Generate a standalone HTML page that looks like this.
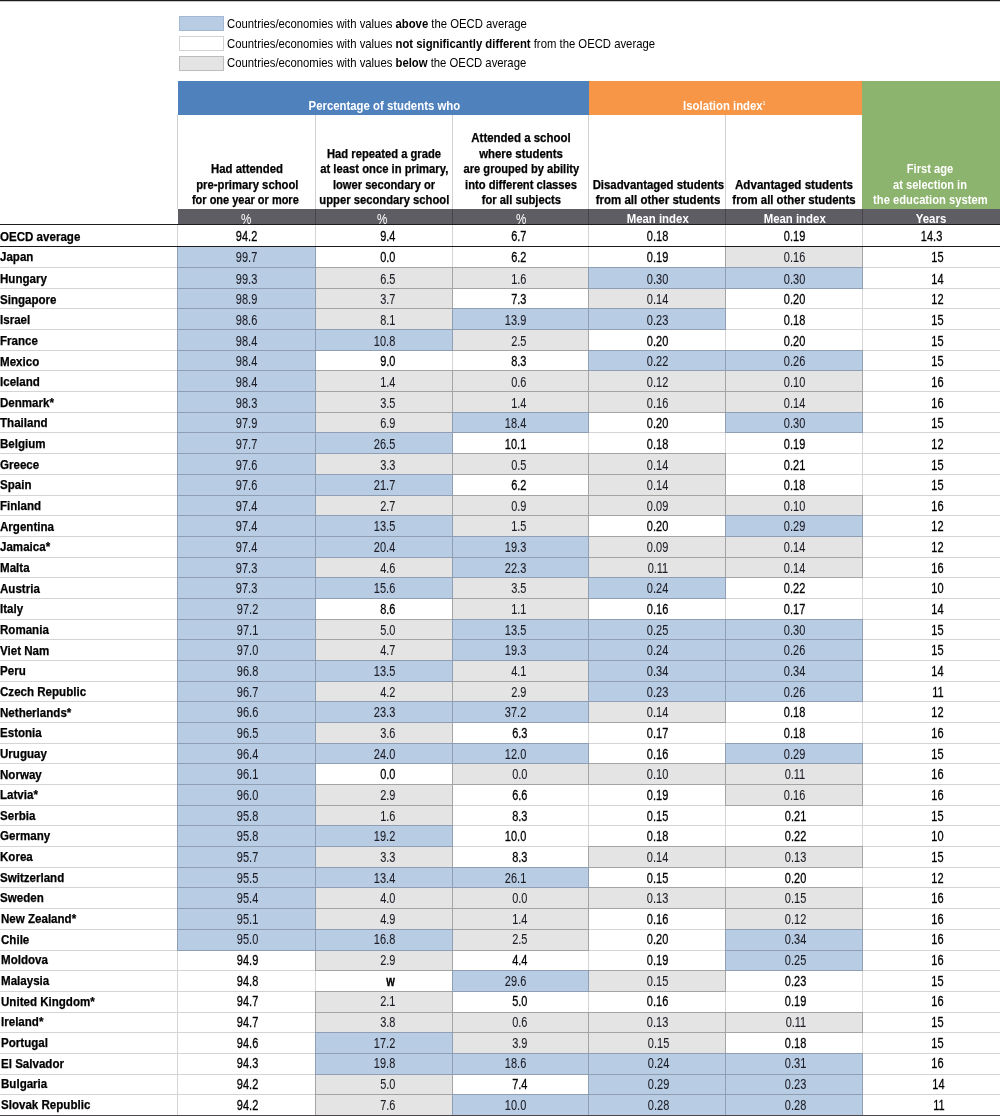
<!DOCTYPE html>
<html><head><meta charset="utf-8"><title>Table</title>
<style>
html,body{margin:0;padding:0;background:#fff;}
body{width:1000px;height:1116px;position:relative;overflow:hidden;font-family:"Liberation Sans",Arial,sans-serif;}
body>div{position:absolute;box-sizing:border-box;}
.t{white-space:nowrap;will-change:transform;}
.t span{display:inline-block;}
.t.w span{-webkit-text-stroke:0.28px #000000;}
.t.hb span{-webkit-text-stroke:0.25px #000;}
.t.c span{-webkit-text-stroke:0.08px #1c1c24;}
</style></head><body>
<div style="left:0px;top:0px;width:1000px;height:1px;background:#1e1b1f;"></div>
<div style="left:0px;top:1px;width:1000px;height:1px;background:#c8c8c8;"></div>
<div style="left:179px;top:16px;width:45px;height:15px;background:#b8cce4;border:1px solid #a3b8d4;"></div>
<div style="left:179px;top:36px;width:45px;height:15px;background:#ffffff;border:1px solid #d2d2d2;"></div>
<div style="left:179px;top:56px;width:45px;height:15px;background:#e4e4e4;border:1px solid #bdbdbd;"></div>
<div class="t" style="left:227.00px;top:16.80px;width:400px;text-align:left;font-size:13px;line-height:13px;font-weight:normal;color:#000"><span style="transform:scaleX(0.87);transform-origin:left;">Countries/economies with values <b>above</b> the OECD average</span></div>
<div class="t" style="left:227.00px;top:37.20px;width:400px;text-align:left;font-size:13px;line-height:13px;font-weight:normal;color:#000"><span style="transform:scaleX(0.87);transform-origin:left;">Countries/economies with values <b>not significantly different</b> from the OECD average</span></div>
<div class="t" style="left:227.00px;top:56.20px;width:400px;text-align:left;font-size:13px;line-height:13px;font-weight:normal;color:#000"><span style="transform:scaleX(0.87);transform-origin:left;">Countries/economies with values <b>below</b> the OECD average</span></div>
<div style="left:178px;top:81px;width:411px;height:34px;background:#4f81bd;"></div>
<div style="left:589px;top:81px;width:273px;height:34px;background:#f79646;"></div>
<div style="left:862px;top:81px;width:138px;height:128px;background:#8db46e;"></div>
<div class="t" style="left:183.50px;top:100.42px;width:400px;text-align:center;font-size:12.5px;line-height:12.5px;font-weight:bold;color:#fff"><span style="transform:scaleX(0.909);transform-origin:center;">Percentage of students who</span></div>
<div class="t" style="left:524.30px;top:100.42px;width:400px;text-align:center;font-size:12.5px;line-height:12.5px;font-weight:bold;color:#fff"><span style="transform:scaleX(0.909);transform-origin:center;">Isolation index<span style="font-size:5px;position:relative;top:-5px">1</span></span></div>
<div style="left:177px;top:115px;width:1px;height:94px;background:#d0d0d0;"></div>
<div style="left:315px;top:115px;width:1px;height:94px;background:#d0d0d0;"></div>
<div style="left:452px;top:115px;width:1px;height:94px;background:#d0d0d0;"></div>
<div style="left:588px;top:115px;width:1px;height:94px;background:#d0d0d0;"></div>
<div style="left:725px;top:115px;width:1px;height:94px;background:#d0d0d0;"></div>
<div style="left:178px;top:209px;width:822px;height:15px;background:#5f5d64;"></div>
<div style="left:315px;top:209px;width:1px;height:15px;background:#48464c;"></div>
<div style="left:452px;top:209px;width:1px;height:15px;background:#48464c;"></div>
<div style="left:588px;top:209px;width:1px;height:15px;background:#48464c;"></div>
<div style="left:725px;top:209px;width:1px;height:15px;background:#48464c;"></div>
<div style="left:862px;top:209px;width:1px;height:15px;background:#48464c;"></div>
<div class="t" style="left:45.80px;top:211.75px;width:400px;text-align:center;font-size:14px;line-height:14px;font-weight:normal;color:#fff"><span style="transform:scaleX(0.83);transform-origin:center;">%</span></div>
<div class="t" style="left:182.20px;top:211.75px;width:400px;text-align:center;font-size:14px;line-height:14px;font-weight:normal;color:#fff"><span style="transform:scaleX(0.83);transform-origin:center;">%</span></div>
<div class="t" style="left:320.60px;top:211.75px;width:400px;text-align:center;font-size:14px;line-height:14px;font-weight:normal;color:#fff"><span style="transform:scaleX(0.83);transform-origin:center;">%</span></div>
<div class="t" style="left:458.40px;top:212.84px;width:400px;text-align:center;font-size:12px;line-height:12px;font-weight:bold;color:#fff"><span style="transform:scaleX(0.95);transform-origin:center;">Mean index</span></div>
<div class="t" style="left:595.20px;top:212.84px;width:400px;text-align:center;font-size:12px;line-height:12px;font-weight:bold;color:#fff"><span style="transform:scaleX(0.95);transform-origin:center;">Mean index</span></div>
<div class="t" style="left:730.50px;top:212.84px;width:400px;text-align:center;font-size:12px;line-height:12px;font-weight:bold;color:#fff"><span style="transform:scaleX(0.95);transform-origin:center;">Years</span></div>
<div class="t hb" style="left:46.50px;top:163.14px;width:400px;text-align:center;font-size:12px;line-height:12px;font-weight:bold;color:#000000"><span style="transform:scaleX(0.9465039999999999);transform-origin:center;">Had attended</span></div>
<div class="t hb" style="left:46.50px;top:178.64px;width:400px;text-align:center;font-size:12px;line-height:12px;font-weight:bold;color:#000000"><span style="transform:scaleX(0.9407559999999999);transform-origin:center;">pre-primary school</span></div>
<div class="t hb" style="left:44.70px;top:194.14px;width:400px;text-align:center;font-size:12px;line-height:12px;font-weight:bold;color:#000000"><span style="transform:scaleX(0.91489);transform-origin:center;">for one year or more</span></div>
<div class="t hb" style="left:184.00px;top:147.64px;width:400px;text-align:center;font-size:12px;line-height:12px;font-weight:bold;color:#000000"><span style="transform:scaleX(0.9340499999999999);transform-origin:center;">Had repeated a grade</span></div>
<div class="t hb" style="left:184.00px;top:163.14px;width:400px;text-align:center;font-size:12px;line-height:12px;font-weight:bold;color:#000000"><span style="transform:scaleX(0.937882);transform-origin:center;">at least once in primary,</span></div>
<div class="t hb" style="left:184.00px;top:178.64px;width:400px;text-align:center;font-size:12px;line-height:12px;font-weight:bold;color:#000000"><span style="transform:scaleX(0.928302);transform-origin:center;">lower secondary or</span></div>
<div class="t hb" style="left:184.00px;top:194.14px;width:400px;text-align:center;font-size:12px;line-height:12px;font-weight:bold;color:#000000"><span style="transform:scaleX(0.936924);transform-origin:center;">upper secondary school</span></div>
<div class="t hb" style="left:320.50px;top:132.14px;width:400px;text-align:center;font-size:12px;line-height:12px;font-weight:bold;color:#000000"><span style="transform:scaleX(0.9551259999999999);transform-origin:center;">Attended a school</span></div>
<div class="t hb" style="left:320.50px;top:147.64px;width:400px;text-align:center;font-size:12px;line-height:12px;font-weight:bold;color:#000000"><span style="transform:scaleX(0.950336);transform-origin:center;">where students</span></div>
<div class="t hb" style="left:320.50px;top:163.14px;width:400px;text-align:center;font-size:12px;line-height:12px;font-weight:bold;color:#000000"><span style="transform:scaleX(0.9263859999999999);transform-origin:center;">are grouped by ability</span></div>
<div class="t hb" style="left:320.50px;top:178.64px;width:400px;text-align:center;font-size:12px;line-height:12px;font-weight:bold;color:#000000"><span style="transform:scaleX(0.9330919999999999);transform-origin:center;">into different classes</span></div>
<div class="t hb" style="left:320.50px;top:194.14px;width:400px;text-align:center;font-size:12px;line-height:12px;font-weight:bold;color:#000000"><span style="transform:scaleX(0.9340499999999999);transform-origin:center;">for all subjects</span></div>
<div class="t hb" style="left:457.50px;top:178.64px;width:400px;text-align:center;font-size:12px;line-height:12px;font-weight:bold;color:#000000"><span style="transform:scaleX(0.9474619999999999);transform-origin:center;">Disadvantaged students</span></div>
<div class="t hb" style="left:457.50px;top:194.14px;width:400px;text-align:center;font-size:12px;line-height:12px;font-weight:bold;color:#000000"><span style="transform:scaleX(0.958);transform-origin:center;">from all other students</span></div>
<div class="t hb" style="left:594.30px;top:178.64px;width:400px;text-align:center;font-size:12px;line-height:12px;font-weight:bold;color:#000000"><span style="transform:scaleX(0.96758);transform-origin:center;">Advantaged students</span></div>
<div class="t hb" style="left:594.30px;top:194.14px;width:400px;text-align:center;font-size:12px;line-height:12px;font-weight:bold;color:#000000"><span style="transform:scaleX(0.9484199999999999);transform-origin:center;">from all other students</span></div>
<div class="t" style="left:730.00px;top:163.14px;width:400px;text-align:center;font-size:12px;line-height:12px;font-weight:bold;color:#ffffff"><span style="transform:scaleX(0.927344);transform-origin:center;">First age</span></div>
<div class="t" style="left:730.00px;top:178.64px;width:400px;text-align:center;font-size:12px;line-height:12px;font-weight:bold;color:#ffffff"><span style="transform:scaleX(0.9235119999999999);transform-origin:center;">at selection in</span></div>
<div class="t" style="left:730.00px;top:194.14px;width:400px;text-align:center;font-size:12px;line-height:12px;font-weight:bold;color:#ffffff"><span style="transform:scaleX(0.9330919999999999);transform-origin:center;">the education system</span></div>
<div style="left:0px;top:224px;width:1000px;height:1px;background:#1e1b1f;"></div>
<div style="left:0px;top:246px;width:1000px;height:1px;background:#1e1b1f;"></div>
<div style="left:177px;top:225px;width:1px;height:21px;background:#d4d4d4;"></div>
<div style="left:315px;top:225px;width:1px;height:21px;background:#d4d4d4;"></div>
<div style="left:452px;top:225px;width:1px;height:21px;background:#d4d4d4;"></div>
<div style="left:588px;top:225px;width:1px;height:21px;background:#d4d4d4;"></div>
<div style="left:725px;top:225px;width:1px;height:21px;background:#d4d4d4;"></div>
<div style="left:862px;top:225px;width:1px;height:21px;background:#d4d4d4;"></div>
<div style="left:0px;top:267px;width:1000px;height:1px;background:#d4d4d4;"></div>
<div style="left:0px;top:288px;width:1000px;height:1px;background:#d4d4d4;"></div>
<div style="left:0px;top:308px;width:1000px;height:1px;background:#d4d4d4;"></div>
<div style="left:0px;top:329px;width:1000px;height:1px;background:#d4d4d4;"></div>
<div style="left:0px;top:350px;width:1000px;height:1px;background:#d4d4d4;"></div>
<div style="left:0px;top:370px;width:1000px;height:1px;background:#d4d4d4;"></div>
<div style="left:0px;top:391px;width:1000px;height:1px;background:#d4d4d4;"></div>
<div style="left:0px;top:412px;width:1000px;height:1px;background:#d4d4d4;"></div>
<div style="left:0px;top:432px;width:1000px;height:1px;background:#d4d4d4;"></div>
<div style="left:0px;top:453px;width:1000px;height:1px;background:#d4d4d4;"></div>
<div style="left:0px;top:474px;width:1000px;height:1px;background:#d4d4d4;"></div>
<div style="left:0px;top:495px;width:1000px;height:1px;background:#d4d4d4;"></div>
<div style="left:0px;top:515px;width:1000px;height:1px;background:#d4d4d4;"></div>
<div style="left:0px;top:536px;width:1000px;height:1px;background:#d4d4d4;"></div>
<div style="left:0px;top:557px;width:1000px;height:1px;background:#d4d4d4;"></div>
<div style="left:0px;top:577px;width:1000px;height:1px;background:#d4d4d4;"></div>
<div style="left:0px;top:598px;width:1000px;height:1px;background:#d4d4d4;"></div>
<div style="left:0px;top:619px;width:1000px;height:1px;background:#d4d4d4;"></div>
<div style="left:0px;top:639px;width:1000px;height:1px;background:#d4d4d4;"></div>
<div style="left:0px;top:660px;width:1000px;height:1px;background:#d4d4d4;"></div>
<div style="left:0px;top:681px;width:1000px;height:1px;background:#d4d4d4;"></div>
<div style="left:0px;top:701px;width:1000px;height:1px;background:#d4d4d4;"></div>
<div style="left:0px;top:722px;width:1000px;height:1px;background:#d4d4d4;"></div>
<div style="left:0px;top:743px;width:1000px;height:1px;background:#d4d4d4;"></div>
<div style="left:0px;top:763px;width:1000px;height:1px;background:#d4d4d4;"></div>
<div style="left:0px;top:784px;width:1000px;height:1px;background:#d4d4d4;"></div>
<div style="left:0px;top:805px;width:1000px;height:1px;background:#d4d4d4;"></div>
<div style="left:0px;top:825px;width:1000px;height:1px;background:#d4d4d4;"></div>
<div style="left:0px;top:846px;width:1000px;height:1px;background:#d4d4d4;"></div>
<div style="left:0px;top:867px;width:1000px;height:1px;background:#d4d4d4;"></div>
<div style="left:0px;top:887px;width:1000px;height:1px;background:#d4d4d4;"></div>
<div style="left:0px;top:908px;width:1000px;height:1px;background:#d4d4d4;"></div>
<div style="left:0px;top:929px;width:1000px;height:1px;background:#d4d4d4;"></div>
<div style="left:0px;top:950px;width:1000px;height:1px;background:#d4d4d4;"></div>
<div style="left:0px;top:970px;width:1000px;height:1px;background:#d4d4d4;"></div>
<div style="left:0px;top:991px;width:1000px;height:1px;background:#d4d4d4;"></div>
<div style="left:0px;top:1012px;width:1000px;height:1px;background:#d4d4d4;"></div>
<div style="left:0px;top:1032px;width:1000px;height:1px;background:#d4d4d4;"></div>
<div style="left:0px;top:1053px;width:1000px;height:1px;background:#d4d4d4;"></div>
<div style="left:0px;top:1074px;width:1000px;height:1px;background:#d4d4d4;"></div>
<div style="left:0px;top:1094px;width:1000px;height:1px;background:#d4d4d4;"></div>
<div style="left:0px;top:1115px;width:1000px;height:1px;background:#4a484c;"></div>
<div style="left:177px;top:247px;width:1px;height:868px;background:#d4d4d4;"></div>
<div style="left:315px;top:247px;width:1px;height:868px;background:#d4d4d4;"></div>
<div style="left:452px;top:247px;width:1px;height:868px;background:#d4d4d4;"></div>
<div style="left:588px;top:247px;width:1px;height:868px;background:#d4d4d4;"></div>
<div style="left:725px;top:247px;width:1px;height:868px;background:#d4d4d4;"></div>
<div style="left:862px;top:247px;width:1px;height:868px;background:#d4d4d4;"></div>
<div style="left:315px;top:267px;width:138px;height:22px;background:#e4e4e4;border:1px solid #a4a4a4;border-top-width:1px;border-bottom-width:1px;border-right-width:1px"></div>
<div style="left:315px;top:288px;width:138px;height:21px;background:#e4e4e4;border:1px solid #a4a4a4;border-top-width:1px;border-bottom-width:1px;border-right-width:1px"></div>
<div style="left:315px;top:308px;width:138px;height:22px;background:#e4e4e4;border:1px solid #a4a4a4;border-top-width:1px;border-bottom-width:1px;border-right-width:1px"></div>
<div style="left:315px;top:370px;width:138px;height:22px;background:#e4e4e4;border:1px solid #a4a4a4;border-top-width:1px;border-bottom-width:1px;border-right-width:1px"></div>
<div style="left:315px;top:391px;width:138px;height:22px;background:#e4e4e4;border:1px solid #a4a4a4;border-top-width:1px;border-bottom-width:1px;border-right-width:1px"></div>
<div style="left:315px;top:412px;width:138px;height:21px;background:#e4e4e4;border:1px solid #a4a4a4;border-top-width:1px;border-bottom-width:1px;border-right-width:1px"></div>
<div style="left:315px;top:453px;width:138px;height:22px;background:#e4e4e4;border:1px solid #a4a4a4;border-top-width:1px;border-bottom-width:1px;border-right-width:1px"></div>
<div style="left:315px;top:495px;width:138px;height:21px;background:#e4e4e4;border:1px solid #a4a4a4;border-top-width:1px;border-bottom-width:1px;border-right-width:1px"></div>
<div style="left:315px;top:557px;width:138px;height:21px;background:#e4e4e4;border:1px solid #a4a4a4;border-top-width:1px;border-bottom-width:1px;border-right-width:1px"></div>
<div style="left:315px;top:619px;width:138px;height:21px;background:#e4e4e4;border:1px solid #a4a4a4;border-top-width:1px;border-bottom-width:1px;border-right-width:1px"></div>
<div style="left:315px;top:639px;width:138px;height:22px;background:#e4e4e4;border:1px solid #a4a4a4;border-top-width:1px;border-bottom-width:1px;border-right-width:1px"></div>
<div style="left:315px;top:681px;width:138px;height:21px;background:#e4e4e4;border:1px solid #a4a4a4;border-top-width:1px;border-bottom-width:1px;border-right-width:1px"></div>
<div style="left:315px;top:722px;width:138px;height:22px;background:#e4e4e4;border:1px solid #a4a4a4;border-top-width:1px;border-bottom-width:1px;border-right-width:1px"></div>
<div style="left:315px;top:784px;width:138px;height:22px;background:#e4e4e4;border:1px solid #a4a4a4;border-top-width:1px;border-bottom-width:1px;border-right-width:1px"></div>
<div style="left:315px;top:805px;width:138px;height:21px;background:#e4e4e4;border:1px solid #a4a4a4;border-top-width:1px;border-bottom-width:1px;border-right-width:1px"></div>
<div style="left:315px;top:846px;width:138px;height:22px;background:#e4e4e4;border:1px solid #a4a4a4;border-top-width:1px;border-bottom-width:1px;border-right-width:1px"></div>
<div style="left:315px;top:887px;width:138px;height:22px;background:#e4e4e4;border:1px solid #a4a4a4;border-top-width:1px;border-bottom-width:1px;border-right-width:1px"></div>
<div style="left:315px;top:908px;width:138px;height:22px;background:#e4e4e4;border:1px solid #a4a4a4;border-top-width:1px;border-bottom-width:1px;border-right-width:1px"></div>
<div style="left:315px;top:950px;width:138px;height:21px;background:#e4e4e4;border:1px solid #a4a4a4;border-top-width:1px;border-bottom-width:1px;border-right-width:1px"></div>
<div style="left:315px;top:991px;width:138px;height:22px;background:#e4e4e4;border:1px solid #a4a4a4;border-top-width:1px;border-bottom-width:1px;border-right-width:1px"></div>
<div style="left:315px;top:1012px;width:138px;height:21px;background:#e4e4e4;border:1px solid #a4a4a4;border-top-width:1px;border-bottom-width:1px;border-right-width:1px"></div>
<div style="left:315px;top:1074px;width:138px;height:21px;background:#e4e4e4;border:1px solid #a4a4a4;border-top-width:1px;border-bottom-width:1px;border-right-width:1px"></div>
<div style="left:315px;top:1094px;width:138px;height:21px;background:#e4e4e4;border:1px solid #a4a4a4;border-top-width:1px;border-bottom-width:0px;border-right-width:1px"></div>
<div style="left:452px;top:267px;width:137px;height:22px;background:#e4e4e4;border:1px solid #a4a4a4;border-top-width:1px;border-bottom-width:1px;border-right-width:1px"></div>
<div style="left:452px;top:329px;width:137px;height:22px;background:#e4e4e4;border:1px solid #a4a4a4;border-top-width:1px;border-bottom-width:1px;border-right-width:1px"></div>
<div style="left:452px;top:370px;width:137px;height:22px;background:#e4e4e4;border:1px solid #a4a4a4;border-top-width:1px;border-bottom-width:1px;border-right-width:1px"></div>
<div style="left:452px;top:391px;width:137px;height:22px;background:#e4e4e4;border:1px solid #a4a4a4;border-top-width:1px;border-bottom-width:1px;border-right-width:1px"></div>
<div style="left:452px;top:453px;width:137px;height:22px;background:#e4e4e4;border:1px solid #a4a4a4;border-top-width:1px;border-bottom-width:1px;border-right-width:1px"></div>
<div style="left:452px;top:495px;width:137px;height:21px;background:#e4e4e4;border:1px solid #a4a4a4;border-top-width:1px;border-bottom-width:1px;border-right-width:1px"></div>
<div style="left:452px;top:515px;width:137px;height:22px;background:#e4e4e4;border:1px solid #a4a4a4;border-top-width:1px;border-bottom-width:1px;border-right-width:1px"></div>
<div style="left:452px;top:577px;width:137px;height:22px;background:#e4e4e4;border:1px solid #a4a4a4;border-top-width:1px;border-bottom-width:1px;border-right-width:1px"></div>
<div style="left:452px;top:598px;width:137px;height:22px;background:#e4e4e4;border:1px solid #a4a4a4;border-top-width:1px;border-bottom-width:1px;border-right-width:1px"></div>
<div style="left:452px;top:660px;width:137px;height:22px;background:#e4e4e4;border:1px solid #a4a4a4;border-top-width:1px;border-bottom-width:1px;border-right-width:1px"></div>
<div style="left:452px;top:681px;width:137px;height:21px;background:#e4e4e4;border:1px solid #a4a4a4;border-top-width:1px;border-bottom-width:1px;border-right-width:1px"></div>
<div style="left:452px;top:763px;width:137px;height:22px;background:#e4e4e4;border:1px solid #a4a4a4;border-top-width:1px;border-bottom-width:1px;border-right-width:1px"></div>
<div style="left:452px;top:887px;width:137px;height:22px;background:#e4e4e4;border:1px solid #a4a4a4;border-top-width:1px;border-bottom-width:1px;border-right-width:1px"></div>
<div style="left:452px;top:908px;width:137px;height:22px;background:#e4e4e4;border:1px solid #a4a4a4;border-top-width:1px;border-bottom-width:1px;border-right-width:1px"></div>
<div style="left:452px;top:929px;width:137px;height:22px;background:#e4e4e4;border:1px solid #a4a4a4;border-top-width:1px;border-bottom-width:1px;border-right-width:1px"></div>
<div style="left:452px;top:1012px;width:137px;height:21px;background:#e4e4e4;border:1px solid #a4a4a4;border-top-width:1px;border-bottom-width:1px;border-right-width:1px"></div>
<div style="left:452px;top:1032px;width:137px;height:22px;background:#e4e4e4;border:1px solid #a4a4a4;border-top-width:1px;border-bottom-width:1px;border-right-width:1px"></div>
<div style="left:588px;top:288px;width:138px;height:21px;background:#e4e4e4;border:1px solid #a4a4a4;border-top-width:1px;border-bottom-width:1px;border-right-width:1px"></div>
<div style="left:588px;top:370px;width:138px;height:22px;background:#e4e4e4;border:1px solid #a4a4a4;border-top-width:1px;border-bottom-width:1px;border-right-width:1px"></div>
<div style="left:588px;top:391px;width:138px;height:22px;background:#e4e4e4;border:1px solid #a4a4a4;border-top-width:1px;border-bottom-width:1px;border-right-width:1px"></div>
<div style="left:588px;top:453px;width:138px;height:22px;background:#e4e4e4;border:1px solid #a4a4a4;border-top-width:1px;border-bottom-width:1px;border-right-width:1px"></div>
<div style="left:588px;top:474px;width:138px;height:22px;background:#e4e4e4;border:1px solid #a4a4a4;border-top-width:1px;border-bottom-width:1px;border-right-width:1px"></div>
<div style="left:588px;top:495px;width:138px;height:21px;background:#e4e4e4;border:1px solid #a4a4a4;border-top-width:1px;border-bottom-width:1px;border-right-width:1px"></div>
<div style="left:588px;top:536px;width:138px;height:22px;background:#e4e4e4;border:1px solid #a4a4a4;border-top-width:1px;border-bottom-width:1px;border-right-width:1px"></div>
<div style="left:588px;top:557px;width:138px;height:21px;background:#e4e4e4;border:1px solid #a4a4a4;border-top-width:1px;border-bottom-width:1px;border-right-width:1px"></div>
<div style="left:588px;top:701px;width:138px;height:22px;background:#e4e4e4;border:1px solid #a4a4a4;border-top-width:1px;border-bottom-width:1px;border-right-width:1px"></div>
<div style="left:588px;top:763px;width:138px;height:22px;background:#e4e4e4;border:1px solid #a4a4a4;border-top-width:1px;border-bottom-width:1px;border-right-width:1px"></div>
<div style="left:588px;top:846px;width:138px;height:22px;background:#e4e4e4;border:1px solid #a4a4a4;border-top-width:1px;border-bottom-width:1px;border-right-width:1px"></div>
<div style="left:588px;top:887px;width:138px;height:22px;background:#e4e4e4;border:1px solid #a4a4a4;border-top-width:1px;border-bottom-width:1px;border-right-width:1px"></div>
<div style="left:588px;top:970px;width:138px;height:22px;background:#e4e4e4;border:1px solid #a4a4a4;border-top-width:1px;border-bottom-width:1px;border-right-width:1px"></div>
<div style="left:588px;top:1012px;width:138px;height:21px;background:#e4e4e4;border:1px solid #a4a4a4;border-top-width:1px;border-bottom-width:1px;border-right-width:1px"></div>
<div style="left:588px;top:1032px;width:138px;height:22px;background:#e4e4e4;border:1px solid #a4a4a4;border-top-width:1px;border-bottom-width:1px;border-right-width:1px"></div>
<div style="left:725px;top:247px;width:138px;height:21px;background:#e4e4e4;border:1px solid #a4a4a4;border-top-width:0px;border-bottom-width:1px;border-right-width:1px"></div>
<div style="left:725px;top:370px;width:138px;height:22px;background:#e4e4e4;border:1px solid #a4a4a4;border-top-width:1px;border-bottom-width:1px;border-right-width:1px"></div>
<div style="left:725px;top:391px;width:138px;height:22px;background:#e4e4e4;border:1px solid #a4a4a4;border-top-width:1px;border-bottom-width:1px;border-right-width:1px"></div>
<div style="left:725px;top:495px;width:138px;height:21px;background:#e4e4e4;border:1px solid #a4a4a4;border-top-width:1px;border-bottom-width:1px;border-right-width:1px"></div>
<div style="left:725px;top:536px;width:138px;height:22px;background:#e4e4e4;border:1px solid #a4a4a4;border-top-width:1px;border-bottom-width:1px;border-right-width:1px"></div>
<div style="left:725px;top:557px;width:138px;height:21px;background:#e4e4e4;border:1px solid #a4a4a4;border-top-width:1px;border-bottom-width:1px;border-right-width:1px"></div>
<div style="left:725px;top:763px;width:138px;height:22px;background:#e4e4e4;border:1px solid #a4a4a4;border-top-width:1px;border-bottom-width:1px;border-right-width:1px"></div>
<div style="left:725px;top:784px;width:138px;height:22px;background:#e4e4e4;border:1px solid #a4a4a4;border-top-width:1px;border-bottom-width:1px;border-right-width:1px"></div>
<div style="left:725px;top:846px;width:138px;height:22px;background:#e4e4e4;border:1px solid #a4a4a4;border-top-width:1px;border-bottom-width:1px;border-right-width:1px"></div>
<div style="left:725px;top:887px;width:138px;height:22px;background:#e4e4e4;border:1px solid #a4a4a4;border-top-width:1px;border-bottom-width:1px;border-right-width:1px"></div>
<div style="left:725px;top:908px;width:138px;height:22px;background:#e4e4e4;border:1px solid #a4a4a4;border-top-width:1px;border-bottom-width:1px;border-right-width:1px"></div>
<div style="left:725px;top:1012px;width:138px;height:21px;background:#e4e4e4;border:1px solid #a4a4a4;border-top-width:1px;border-bottom-width:1px;border-right-width:1px"></div>
<div style="left:177px;top:247px;width:139px;height:21px;background:#b8cce4;border:1px solid #909eb3;border-top-width:0px;border-bottom-width:1px;border-right-width:1px"></div>
<div style="left:177px;top:267px;width:139px;height:22px;background:#b8cce4;border:1px solid #909eb3;border-top-width:1px;border-bottom-width:1px;border-right-width:1px"></div>
<div style="left:177px;top:288px;width:139px;height:21px;background:#b8cce4;border:1px solid #909eb3;border-top-width:1px;border-bottom-width:1px;border-right-width:1px"></div>
<div style="left:177px;top:308px;width:139px;height:22px;background:#b8cce4;border:1px solid #909eb3;border-top-width:1px;border-bottom-width:1px;border-right-width:1px"></div>
<div style="left:177px;top:329px;width:139px;height:22px;background:#b8cce4;border:1px solid #909eb3;border-top-width:1px;border-bottom-width:1px;border-right-width:1px"></div>
<div style="left:177px;top:350px;width:139px;height:21px;background:#b8cce4;border:1px solid #909eb3;border-top-width:1px;border-bottom-width:1px;border-right-width:1px"></div>
<div style="left:177px;top:370px;width:139px;height:22px;background:#b8cce4;border:1px solid #909eb3;border-top-width:1px;border-bottom-width:1px;border-right-width:1px"></div>
<div style="left:177px;top:391px;width:139px;height:22px;background:#b8cce4;border:1px solid #909eb3;border-top-width:1px;border-bottom-width:1px;border-right-width:1px"></div>
<div style="left:177px;top:412px;width:139px;height:21px;background:#b8cce4;border:1px solid #909eb3;border-top-width:1px;border-bottom-width:1px;border-right-width:1px"></div>
<div style="left:177px;top:432px;width:139px;height:22px;background:#b8cce4;border:1px solid #909eb3;border-top-width:1px;border-bottom-width:1px;border-right-width:1px"></div>
<div style="left:177px;top:453px;width:139px;height:22px;background:#b8cce4;border:1px solid #909eb3;border-top-width:1px;border-bottom-width:1px;border-right-width:1px"></div>
<div style="left:177px;top:474px;width:139px;height:22px;background:#b8cce4;border:1px solid #909eb3;border-top-width:1px;border-bottom-width:1px;border-right-width:1px"></div>
<div style="left:177px;top:495px;width:139px;height:21px;background:#b8cce4;border:1px solid #909eb3;border-top-width:1px;border-bottom-width:1px;border-right-width:1px"></div>
<div style="left:177px;top:515px;width:139px;height:22px;background:#b8cce4;border:1px solid #909eb3;border-top-width:1px;border-bottom-width:1px;border-right-width:1px"></div>
<div style="left:177px;top:536px;width:139px;height:22px;background:#b8cce4;border:1px solid #909eb3;border-top-width:1px;border-bottom-width:1px;border-right-width:1px"></div>
<div style="left:177px;top:557px;width:139px;height:21px;background:#b8cce4;border:1px solid #909eb3;border-top-width:1px;border-bottom-width:1px;border-right-width:1px"></div>
<div style="left:177px;top:577px;width:139px;height:22px;background:#b8cce4;border:1px solid #909eb3;border-top-width:1px;border-bottom-width:1px;border-right-width:1px"></div>
<div style="left:177px;top:598px;width:139px;height:22px;background:#b8cce4;border:1px solid #909eb3;border-top-width:1px;border-bottom-width:1px;border-right-width:1px"></div>
<div style="left:177px;top:619px;width:139px;height:21px;background:#b8cce4;border:1px solid #909eb3;border-top-width:1px;border-bottom-width:1px;border-right-width:1px"></div>
<div style="left:177px;top:639px;width:139px;height:22px;background:#b8cce4;border:1px solid #909eb3;border-top-width:1px;border-bottom-width:1px;border-right-width:1px"></div>
<div style="left:177px;top:660px;width:139px;height:22px;background:#b8cce4;border:1px solid #909eb3;border-top-width:1px;border-bottom-width:1px;border-right-width:1px"></div>
<div style="left:177px;top:681px;width:139px;height:21px;background:#b8cce4;border:1px solid #909eb3;border-top-width:1px;border-bottom-width:1px;border-right-width:1px"></div>
<div style="left:177px;top:701px;width:139px;height:22px;background:#b8cce4;border:1px solid #909eb3;border-top-width:1px;border-bottom-width:1px;border-right-width:1px"></div>
<div style="left:177px;top:722px;width:139px;height:22px;background:#b8cce4;border:1px solid #909eb3;border-top-width:1px;border-bottom-width:1px;border-right-width:1px"></div>
<div style="left:177px;top:743px;width:139px;height:21px;background:#b8cce4;border:1px solid #909eb3;border-top-width:1px;border-bottom-width:1px;border-right-width:1px"></div>
<div style="left:177px;top:763px;width:139px;height:22px;background:#b8cce4;border:1px solid #909eb3;border-top-width:1px;border-bottom-width:1px;border-right-width:1px"></div>
<div style="left:177px;top:784px;width:139px;height:22px;background:#b8cce4;border:1px solid #909eb3;border-top-width:1px;border-bottom-width:1px;border-right-width:1px"></div>
<div style="left:177px;top:805px;width:139px;height:21px;background:#b8cce4;border:1px solid #909eb3;border-top-width:1px;border-bottom-width:1px;border-right-width:1px"></div>
<div style="left:177px;top:825px;width:139px;height:22px;background:#b8cce4;border:1px solid #909eb3;border-top-width:1px;border-bottom-width:1px;border-right-width:1px"></div>
<div style="left:177px;top:846px;width:139px;height:22px;background:#b8cce4;border:1px solid #909eb3;border-top-width:1px;border-bottom-width:1px;border-right-width:1px"></div>
<div style="left:177px;top:867px;width:139px;height:21px;background:#b8cce4;border:1px solid #909eb3;border-top-width:1px;border-bottom-width:1px;border-right-width:1px"></div>
<div style="left:177px;top:887px;width:139px;height:22px;background:#b8cce4;border:1px solid #909eb3;border-top-width:1px;border-bottom-width:1px;border-right-width:1px"></div>
<div style="left:177px;top:908px;width:139px;height:22px;background:#b8cce4;border:1px solid #909eb3;border-top-width:1px;border-bottom-width:1px;border-right-width:1px"></div>
<div style="left:177px;top:929px;width:139px;height:22px;background:#b8cce4;border:1px solid #909eb3;border-top-width:1px;border-bottom-width:1px;border-right-width:1px"></div>
<div style="left:315px;top:329px;width:138px;height:22px;background:#b8cce4;border:1px solid #909eb3;border-top-width:1px;border-bottom-width:1px;border-right-width:1px"></div>
<div style="left:315px;top:432px;width:138px;height:22px;background:#b8cce4;border:1px solid #909eb3;border-top-width:1px;border-bottom-width:1px;border-right-width:1px"></div>
<div style="left:315px;top:474px;width:138px;height:22px;background:#b8cce4;border:1px solid #909eb3;border-top-width:1px;border-bottom-width:1px;border-right-width:1px"></div>
<div style="left:315px;top:515px;width:138px;height:22px;background:#b8cce4;border:1px solid #909eb3;border-top-width:1px;border-bottom-width:1px;border-right-width:1px"></div>
<div style="left:315px;top:536px;width:138px;height:22px;background:#b8cce4;border:1px solid #909eb3;border-top-width:1px;border-bottom-width:1px;border-right-width:1px"></div>
<div style="left:315px;top:577px;width:138px;height:22px;background:#b8cce4;border:1px solid #909eb3;border-top-width:1px;border-bottom-width:1px;border-right-width:1px"></div>
<div style="left:315px;top:660px;width:138px;height:22px;background:#b8cce4;border:1px solid #909eb3;border-top-width:1px;border-bottom-width:1px;border-right-width:1px"></div>
<div style="left:315px;top:701px;width:138px;height:22px;background:#b8cce4;border:1px solid #909eb3;border-top-width:1px;border-bottom-width:1px;border-right-width:1px"></div>
<div style="left:315px;top:743px;width:138px;height:21px;background:#b8cce4;border:1px solid #909eb3;border-top-width:1px;border-bottom-width:1px;border-right-width:1px"></div>
<div style="left:315px;top:825px;width:138px;height:22px;background:#b8cce4;border:1px solid #909eb3;border-top-width:1px;border-bottom-width:1px;border-right-width:1px"></div>
<div style="left:315px;top:867px;width:138px;height:21px;background:#b8cce4;border:1px solid #909eb3;border-top-width:1px;border-bottom-width:1px;border-right-width:1px"></div>
<div style="left:315px;top:929px;width:138px;height:22px;background:#b8cce4;border:1px solid #909eb3;border-top-width:1px;border-bottom-width:1px;border-right-width:1px"></div>
<div style="left:315px;top:1032px;width:138px;height:22px;background:#b8cce4;border:1px solid #909eb3;border-top-width:1px;border-bottom-width:1px;border-right-width:1px"></div>
<div style="left:315px;top:1053px;width:138px;height:22px;background:#b8cce4;border:1px solid #909eb3;border-top-width:1px;border-bottom-width:1px;border-right-width:1px"></div>
<div style="left:452px;top:308px;width:137px;height:22px;background:#b8cce4;border:1px solid #909eb3;border-top-width:1px;border-bottom-width:1px;border-right-width:1px"></div>
<div style="left:452px;top:412px;width:137px;height:21px;background:#b8cce4;border:1px solid #909eb3;border-top-width:1px;border-bottom-width:1px;border-right-width:1px"></div>
<div style="left:452px;top:536px;width:137px;height:22px;background:#b8cce4;border:1px solid #909eb3;border-top-width:1px;border-bottom-width:1px;border-right-width:1px"></div>
<div style="left:452px;top:557px;width:137px;height:21px;background:#b8cce4;border:1px solid #909eb3;border-top-width:1px;border-bottom-width:1px;border-right-width:1px"></div>
<div style="left:452px;top:619px;width:137px;height:21px;background:#b8cce4;border:1px solid #909eb3;border-top-width:1px;border-bottom-width:1px;border-right-width:1px"></div>
<div style="left:452px;top:639px;width:137px;height:22px;background:#b8cce4;border:1px solid #909eb3;border-top-width:1px;border-bottom-width:1px;border-right-width:1px"></div>
<div style="left:452px;top:701px;width:137px;height:22px;background:#b8cce4;border:1px solid #909eb3;border-top-width:1px;border-bottom-width:1px;border-right-width:1px"></div>
<div style="left:452px;top:743px;width:137px;height:21px;background:#b8cce4;border:1px solid #909eb3;border-top-width:1px;border-bottom-width:1px;border-right-width:1px"></div>
<div style="left:452px;top:867px;width:137px;height:21px;background:#b8cce4;border:1px solid #909eb3;border-top-width:1px;border-bottom-width:1px;border-right-width:1px"></div>
<div style="left:452px;top:970px;width:137px;height:22px;background:#b8cce4;border:1px solid #909eb3;border-top-width:1px;border-bottom-width:1px;border-right-width:1px"></div>
<div style="left:452px;top:1053px;width:137px;height:22px;background:#b8cce4;border:1px solid #909eb3;border-top-width:1px;border-bottom-width:1px;border-right-width:1px"></div>
<div style="left:452px;top:1094px;width:137px;height:21px;background:#b8cce4;border:1px solid #909eb3;border-top-width:1px;border-bottom-width:0px;border-right-width:1px"></div>
<div style="left:588px;top:267px;width:138px;height:22px;background:#b8cce4;border:1px solid #909eb3;border-top-width:1px;border-bottom-width:1px;border-right-width:1px"></div>
<div style="left:588px;top:308px;width:138px;height:22px;background:#b8cce4;border:1px solid #909eb3;border-top-width:1px;border-bottom-width:1px;border-right-width:1px"></div>
<div style="left:588px;top:350px;width:138px;height:21px;background:#b8cce4;border:1px solid #909eb3;border-top-width:1px;border-bottom-width:1px;border-right-width:1px"></div>
<div style="left:588px;top:577px;width:138px;height:22px;background:#b8cce4;border:1px solid #909eb3;border-top-width:1px;border-bottom-width:1px;border-right-width:1px"></div>
<div style="left:588px;top:619px;width:138px;height:21px;background:#b8cce4;border:1px solid #909eb3;border-top-width:1px;border-bottom-width:1px;border-right-width:1px"></div>
<div style="left:588px;top:639px;width:138px;height:22px;background:#b8cce4;border:1px solid #909eb3;border-top-width:1px;border-bottom-width:1px;border-right-width:1px"></div>
<div style="left:588px;top:660px;width:138px;height:22px;background:#b8cce4;border:1px solid #909eb3;border-top-width:1px;border-bottom-width:1px;border-right-width:1px"></div>
<div style="left:588px;top:681px;width:138px;height:21px;background:#b8cce4;border:1px solid #909eb3;border-top-width:1px;border-bottom-width:1px;border-right-width:1px"></div>
<div style="left:588px;top:1053px;width:138px;height:22px;background:#b8cce4;border:1px solid #909eb3;border-top-width:1px;border-bottom-width:1px;border-right-width:1px"></div>
<div style="left:588px;top:1074px;width:138px;height:21px;background:#b8cce4;border:1px solid #909eb3;border-top-width:1px;border-bottom-width:1px;border-right-width:1px"></div>
<div style="left:588px;top:1094px;width:138px;height:21px;background:#b8cce4;border:1px solid #909eb3;border-top-width:1px;border-bottom-width:0px;border-right-width:1px"></div>
<div style="left:725px;top:267px;width:138px;height:22px;background:#b8cce4;border:1px solid #909eb3;border-top-width:1px;border-bottom-width:1px;border-right-width:1px"></div>
<div style="left:725px;top:350px;width:138px;height:21px;background:#b8cce4;border:1px solid #909eb3;border-top-width:1px;border-bottom-width:1px;border-right-width:1px"></div>
<div style="left:725px;top:412px;width:138px;height:21px;background:#b8cce4;border:1px solid #909eb3;border-top-width:1px;border-bottom-width:1px;border-right-width:1px"></div>
<div style="left:725px;top:515px;width:138px;height:22px;background:#b8cce4;border:1px solid #909eb3;border-top-width:1px;border-bottom-width:1px;border-right-width:1px"></div>
<div style="left:725px;top:619px;width:138px;height:21px;background:#b8cce4;border:1px solid #909eb3;border-top-width:1px;border-bottom-width:1px;border-right-width:1px"></div>
<div style="left:725px;top:639px;width:138px;height:22px;background:#b8cce4;border:1px solid #909eb3;border-top-width:1px;border-bottom-width:1px;border-right-width:1px"></div>
<div style="left:725px;top:660px;width:138px;height:22px;background:#b8cce4;border:1px solid #909eb3;border-top-width:1px;border-bottom-width:1px;border-right-width:1px"></div>
<div style="left:725px;top:681px;width:138px;height:21px;background:#b8cce4;border:1px solid #909eb3;border-top-width:1px;border-bottom-width:1px;border-right-width:1px"></div>
<div style="left:725px;top:743px;width:138px;height:21px;background:#b8cce4;border:1px solid #909eb3;border-top-width:1px;border-bottom-width:1px;border-right-width:1px"></div>
<div style="left:725px;top:929px;width:138px;height:22px;background:#b8cce4;border:1px solid #909eb3;border-top-width:1px;border-bottom-width:1px;border-right-width:1px"></div>
<div style="left:725px;top:950px;width:138px;height:21px;background:#b8cce4;border:1px solid #909eb3;border-top-width:1px;border-bottom-width:1px;border-right-width:1px"></div>
<div style="left:725px;top:1053px;width:138px;height:22px;background:#b8cce4;border:1px solid #909eb3;border-top-width:1px;border-bottom-width:1px;border-right-width:1px"></div>
<div style="left:725px;top:1074px;width:138px;height:21px;background:#b8cce4;border:1px solid #909eb3;border-top-width:1px;border-bottom-width:1px;border-right-width:1px"></div>
<div style="left:725px;top:1094px;width:138px;height:21px;background:#b8cce4;border:1px solid #909eb3;border-top-width:1px;border-bottom-width:0px;border-right-width:1px"></div>
<div class="t hb" style="left:-0.50px;top:230.72px;width:400px;text-align:left;font-size:12.5px;line-height:12.5px;font-weight:bold;color:#000"><span style="transform:scaleX(0.925);transform-origin:left;">OECD average</span></div>
<div class="t w" style="left:-143.20px;top:229.45px;width:400px;text-align:right;font-size:14px;line-height:14px;font-weight:normal;color:#000000"><span style="transform:scaleX(0.785);transform-origin:right;">94.2</span></div>
<div class="t w" style="left:-4.70px;top:229.45px;width:400px;text-align:right;font-size:14px;line-height:14px;font-weight:normal;color:#000000"><span style="transform:scaleX(0.785);transform-origin:right;">9.4</span></div>
<div class="t w" style="left:125.50px;top:229.45px;width:400px;text-align:right;font-size:14px;line-height:14px;font-weight:normal;color:#000000"><span style="transform:scaleX(0.785);transform-origin:right;">6.7</span></div>
<div class="t w" style="left:268.20px;top:229.45px;width:400px;text-align:right;font-size:14px;line-height:14px;font-weight:normal;color:#000000"><span style="transform:scaleX(0.785);transform-origin:right;">0.18</span></div>
<div class="t w" style="left:405.00px;top:229.45px;width:400px;text-align:right;font-size:14px;line-height:14px;font-weight:normal;color:#000000"><span style="transform:scaleX(0.785);transform-origin:right;">0.19</span></div>
<div class="t w" style="left:542.20px;top:229.45px;width:400px;text-align:right;font-size:14px;line-height:14px;font-weight:normal;color:#000000"><span style="transform:scaleX(0.785);transform-origin:right;">14.3</span></div>
<div class="t hb" style="left:-0.50px;top:251.02px;width:400px;text-align:left;font-size:12.5px;line-height:12.5px;font-weight:bold;color:#000"><span style="transform:scaleX(0.925);transform-origin:left;">Japan</span></div>
<div class="t c" style="left:-143.20px;top:249.75px;width:400px;text-align:right;font-size:14px;line-height:14px;font-weight:normal;color:#1c1c24"><span style="transform:scaleX(0.785);transform-origin:right;">99.7</span></div>
<div class="t w" style="left:-4.70px;top:249.75px;width:400px;text-align:right;font-size:14px;line-height:14px;font-weight:normal;color:#000000"><span style="transform:scaleX(0.785);transform-origin:right;">0.0</span></div>
<div class="t w" style="left:125.50px;top:249.75px;width:400px;text-align:right;font-size:14px;line-height:14px;font-weight:normal;color:#000000"><span style="transform:scaleX(0.785);transform-origin:right;">6.2</span></div>
<div class="t w" style="left:268.20px;top:249.75px;width:400px;text-align:right;font-size:14px;line-height:14px;font-weight:normal;color:#000000"><span style="transform:scaleX(0.785);transform-origin:right;">0.19</span></div>
<div class="t c" style="left:405.00px;top:249.75px;width:400px;text-align:right;font-size:14px;line-height:14px;font-weight:normal;color:#1c1c24"><span style="transform:scaleX(0.785);transform-origin:right;">0.16</span></div>
<div class="t w" style="left:544.00px;top:249.75px;width:400px;text-align:right;font-size:14px;line-height:14px;font-weight:normal;color:#000000"><span style="transform:scaleX(0.785);transform-origin:right;">15</span></div>
<div class="t hb" style="left:-0.50px;top:272.92px;width:400px;text-align:left;font-size:12.5px;line-height:12.5px;font-weight:bold;color:#000"><span style="transform:scaleX(0.925);transform-origin:left;">Hungary</span></div>
<div class="t c" style="left:-143.20px;top:271.65px;width:400px;text-align:right;font-size:14px;line-height:14px;font-weight:normal;color:#1c1c24"><span style="transform:scaleX(0.785);transform-origin:right;">99.3</span></div>
<div class="t c" style="left:-4.70px;top:271.65px;width:400px;text-align:right;font-size:14px;line-height:14px;font-weight:normal;color:#1c1c24"><span style="transform:scaleX(0.785);transform-origin:right;">6.5</span></div>
<div class="t c" style="left:125.50px;top:271.65px;width:400px;text-align:right;font-size:14px;line-height:14px;font-weight:normal;color:#1c1c24"><span style="transform:scaleX(0.785);transform-origin:right;">1.6</span></div>
<div class="t c" style="left:268.20px;top:271.65px;width:400px;text-align:right;font-size:14px;line-height:14px;font-weight:normal;color:#1c1c24"><span style="transform:scaleX(0.785);transform-origin:right;">0.30</span></div>
<div class="t c" style="left:405.00px;top:271.65px;width:400px;text-align:right;font-size:14px;line-height:14px;font-weight:normal;color:#1c1c24"><span style="transform:scaleX(0.785);transform-origin:right;">0.30</span></div>
<div class="t w" style="left:544.00px;top:271.65px;width:400px;text-align:right;font-size:14px;line-height:14px;font-weight:normal;color:#000000"><span style="transform:scaleX(0.785);transform-origin:right;">14</span></div>
<div class="t hb" style="left:-0.50px;top:293.57px;width:400px;text-align:left;font-size:12.5px;line-height:12.5px;font-weight:bold;color:#000"><span style="transform:scaleX(0.925);transform-origin:left;">Singapore</span></div>
<div class="t c" style="left:-143.20px;top:292.30px;width:400px;text-align:right;font-size:14px;line-height:14px;font-weight:normal;color:#1c1c24"><span style="transform:scaleX(0.785);transform-origin:right;">98.9</span></div>
<div class="t c" style="left:-4.70px;top:292.30px;width:400px;text-align:right;font-size:14px;line-height:14px;font-weight:normal;color:#1c1c24"><span style="transform:scaleX(0.785);transform-origin:right;">3.7</span></div>
<div class="t w" style="left:125.50px;top:292.30px;width:400px;text-align:right;font-size:14px;line-height:14px;font-weight:normal;color:#000000"><span style="transform:scaleX(0.785);transform-origin:right;">7.3</span></div>
<div class="t c" style="left:268.20px;top:292.30px;width:400px;text-align:right;font-size:14px;line-height:14px;font-weight:normal;color:#1c1c24"><span style="transform:scaleX(0.785);transform-origin:right;">0.14</span></div>
<div class="t w" style="left:405.00px;top:292.30px;width:400px;text-align:right;font-size:14px;line-height:14px;font-weight:normal;color:#000000"><span style="transform:scaleX(0.785);transform-origin:right;">0.20</span></div>
<div class="t w" style="left:544.00px;top:292.30px;width:400px;text-align:right;font-size:14px;line-height:14px;font-weight:normal;color:#000000"><span style="transform:scaleX(0.785);transform-origin:right;">12</span></div>
<div class="t hb" style="left:-0.50px;top:314.22px;width:400px;text-align:left;font-size:12.5px;line-height:12.5px;font-weight:bold;color:#000"><span style="transform:scaleX(0.925);transform-origin:left;">Israel</span></div>
<div class="t c" style="left:-143.20px;top:312.95px;width:400px;text-align:right;font-size:14px;line-height:14px;font-weight:normal;color:#1c1c24"><span style="transform:scaleX(0.785);transform-origin:right;">98.6</span></div>
<div class="t c" style="left:-4.70px;top:312.95px;width:400px;text-align:right;font-size:14px;line-height:14px;font-weight:normal;color:#1c1c24"><span style="transform:scaleX(0.785);transform-origin:right;">8.1</span></div>
<div class="t c" style="left:125.50px;top:312.95px;width:400px;text-align:right;font-size:14px;line-height:14px;font-weight:normal;color:#1c1c24"><span style="transform:scaleX(0.785);transform-origin:right;">13.9</span></div>
<div class="t c" style="left:268.20px;top:312.95px;width:400px;text-align:right;font-size:14px;line-height:14px;font-weight:normal;color:#1c1c24"><span style="transform:scaleX(0.785);transform-origin:right;">0.23</span></div>
<div class="t w" style="left:405.00px;top:312.95px;width:400px;text-align:right;font-size:14px;line-height:14px;font-weight:normal;color:#000000"><span style="transform:scaleX(0.785);transform-origin:right;">0.18</span></div>
<div class="t w" style="left:544.00px;top:312.95px;width:400px;text-align:right;font-size:14px;line-height:14px;font-weight:normal;color:#000000"><span style="transform:scaleX(0.785);transform-origin:right;">15</span></div>
<div class="t hb" style="left:-0.50px;top:334.87px;width:400px;text-align:left;font-size:12.5px;line-height:12.5px;font-weight:bold;color:#000"><span style="transform:scaleX(0.925);transform-origin:left;">France</span></div>
<div class="t c" style="left:-143.20px;top:333.60px;width:400px;text-align:right;font-size:14px;line-height:14px;font-weight:normal;color:#1c1c24"><span style="transform:scaleX(0.785);transform-origin:right;">98.4</span></div>
<div class="t c" style="left:-4.70px;top:333.60px;width:400px;text-align:right;font-size:14px;line-height:14px;font-weight:normal;color:#1c1c24"><span style="transform:scaleX(0.785);transform-origin:right;">10.8</span></div>
<div class="t c" style="left:125.50px;top:333.60px;width:400px;text-align:right;font-size:14px;line-height:14px;font-weight:normal;color:#1c1c24"><span style="transform:scaleX(0.785);transform-origin:right;">2.5</span></div>
<div class="t w" style="left:268.20px;top:333.60px;width:400px;text-align:right;font-size:14px;line-height:14px;font-weight:normal;color:#000000"><span style="transform:scaleX(0.785);transform-origin:right;">0.20</span></div>
<div class="t w" style="left:405.00px;top:333.60px;width:400px;text-align:right;font-size:14px;line-height:14px;font-weight:normal;color:#000000"><span style="transform:scaleX(0.785);transform-origin:right;">0.20</span></div>
<div class="t w" style="left:544.00px;top:333.60px;width:400px;text-align:right;font-size:14px;line-height:14px;font-weight:normal;color:#000000"><span style="transform:scaleX(0.785);transform-origin:right;">15</span></div>
<div class="t hb" style="left:-0.50px;top:355.52px;width:400px;text-align:left;font-size:12.5px;line-height:12.5px;font-weight:bold;color:#000"><span style="transform:scaleX(0.925);transform-origin:left;">Mexico</span></div>
<div class="t c" style="left:-143.20px;top:354.25px;width:400px;text-align:right;font-size:14px;line-height:14px;font-weight:normal;color:#1c1c24"><span style="transform:scaleX(0.785);transform-origin:right;">98.4</span></div>
<div class="t w" style="left:-4.70px;top:354.25px;width:400px;text-align:right;font-size:14px;line-height:14px;font-weight:normal;color:#000000"><span style="transform:scaleX(0.785);transform-origin:right;">9.0</span></div>
<div class="t w" style="left:125.50px;top:354.25px;width:400px;text-align:right;font-size:14px;line-height:14px;font-weight:normal;color:#000000"><span style="transform:scaleX(0.785);transform-origin:right;">8.3</span></div>
<div class="t c" style="left:268.20px;top:354.25px;width:400px;text-align:right;font-size:14px;line-height:14px;font-weight:normal;color:#1c1c24"><span style="transform:scaleX(0.785);transform-origin:right;">0.22</span></div>
<div class="t c" style="left:405.00px;top:354.25px;width:400px;text-align:right;font-size:14px;line-height:14px;font-weight:normal;color:#1c1c24"><span style="transform:scaleX(0.785);transform-origin:right;">0.26</span></div>
<div class="t w" style="left:544.00px;top:354.25px;width:400px;text-align:right;font-size:14px;line-height:14px;font-weight:normal;color:#000000"><span style="transform:scaleX(0.785);transform-origin:right;">15</span></div>
<div class="t hb" style="left:-0.50px;top:376.17px;width:400px;text-align:left;font-size:12.5px;line-height:12.5px;font-weight:bold;color:#000"><span style="transform:scaleX(0.925);transform-origin:left;">Iceland</span></div>
<div class="t c" style="left:-143.20px;top:374.90px;width:400px;text-align:right;font-size:14px;line-height:14px;font-weight:normal;color:#1c1c24"><span style="transform:scaleX(0.785);transform-origin:right;">98.4</span></div>
<div class="t c" style="left:-4.70px;top:374.90px;width:400px;text-align:right;font-size:14px;line-height:14px;font-weight:normal;color:#1c1c24"><span style="transform:scaleX(0.785);transform-origin:right;">1.4</span></div>
<div class="t c" style="left:125.50px;top:374.90px;width:400px;text-align:right;font-size:14px;line-height:14px;font-weight:normal;color:#1c1c24"><span style="transform:scaleX(0.785);transform-origin:right;">0.6</span></div>
<div class="t c" style="left:268.20px;top:374.90px;width:400px;text-align:right;font-size:14px;line-height:14px;font-weight:normal;color:#1c1c24"><span style="transform:scaleX(0.785);transform-origin:right;">0.12</span></div>
<div class="t c" style="left:405.00px;top:374.90px;width:400px;text-align:right;font-size:14px;line-height:14px;font-weight:normal;color:#1c1c24"><span style="transform:scaleX(0.785);transform-origin:right;">0.10</span></div>
<div class="t w" style="left:544.00px;top:374.90px;width:400px;text-align:right;font-size:14px;line-height:14px;font-weight:normal;color:#000000"><span style="transform:scaleX(0.785);transform-origin:right;">16</span></div>
<div class="t hb" style="left:-0.50px;top:396.82px;width:400px;text-align:left;font-size:12.5px;line-height:12.5px;font-weight:bold;color:#000"><span style="transform:scaleX(0.925);transform-origin:left;">Denmark*</span></div>
<div class="t c" style="left:-143.20px;top:395.55px;width:400px;text-align:right;font-size:14px;line-height:14px;font-weight:normal;color:#1c1c24"><span style="transform:scaleX(0.785);transform-origin:right;">98.3</span></div>
<div class="t c" style="left:-4.70px;top:395.55px;width:400px;text-align:right;font-size:14px;line-height:14px;font-weight:normal;color:#1c1c24"><span style="transform:scaleX(0.785);transform-origin:right;">3.5</span></div>
<div class="t c" style="left:125.50px;top:395.55px;width:400px;text-align:right;font-size:14px;line-height:14px;font-weight:normal;color:#1c1c24"><span style="transform:scaleX(0.785);transform-origin:right;">1.4</span></div>
<div class="t c" style="left:268.20px;top:395.55px;width:400px;text-align:right;font-size:14px;line-height:14px;font-weight:normal;color:#1c1c24"><span style="transform:scaleX(0.785);transform-origin:right;">0.16</span></div>
<div class="t c" style="left:405.00px;top:395.55px;width:400px;text-align:right;font-size:14px;line-height:14px;font-weight:normal;color:#1c1c24"><span style="transform:scaleX(0.785);transform-origin:right;">0.14</span></div>
<div class="t w" style="left:544.00px;top:395.55px;width:400px;text-align:right;font-size:14px;line-height:14px;font-weight:normal;color:#000000"><span style="transform:scaleX(0.785);transform-origin:right;">16</span></div>
<div class="t hb" style="left:-0.50px;top:417.47px;width:400px;text-align:left;font-size:12.5px;line-height:12.5px;font-weight:bold;color:#000"><span style="transform:scaleX(0.925);transform-origin:left;">Thailand</span></div>
<div class="t c" style="left:-143.20px;top:416.20px;width:400px;text-align:right;font-size:14px;line-height:14px;font-weight:normal;color:#1c1c24"><span style="transform:scaleX(0.785);transform-origin:right;">97.9</span></div>
<div class="t c" style="left:-4.70px;top:416.20px;width:400px;text-align:right;font-size:14px;line-height:14px;font-weight:normal;color:#1c1c24"><span style="transform:scaleX(0.785);transform-origin:right;">6.9</span></div>
<div class="t c" style="left:125.50px;top:416.20px;width:400px;text-align:right;font-size:14px;line-height:14px;font-weight:normal;color:#1c1c24"><span style="transform:scaleX(0.785);transform-origin:right;">18.4</span></div>
<div class="t w" style="left:268.20px;top:416.20px;width:400px;text-align:right;font-size:14px;line-height:14px;font-weight:normal;color:#000000"><span style="transform:scaleX(0.785);transform-origin:right;">0.20</span></div>
<div class="t c" style="left:405.00px;top:416.20px;width:400px;text-align:right;font-size:14px;line-height:14px;font-weight:normal;color:#1c1c24"><span style="transform:scaleX(0.785);transform-origin:right;">0.30</span></div>
<div class="t w" style="left:544.00px;top:416.20px;width:400px;text-align:right;font-size:14px;line-height:14px;font-weight:normal;color:#000000"><span style="transform:scaleX(0.785);transform-origin:right;">15</span></div>
<div class="t hb" style="left:-0.50px;top:438.12px;width:400px;text-align:left;font-size:12.5px;line-height:12.5px;font-weight:bold;color:#000"><span style="transform:scaleX(0.925);transform-origin:left;">Belgium</span></div>
<div class="t c" style="left:-143.20px;top:436.85px;width:400px;text-align:right;font-size:14px;line-height:14px;font-weight:normal;color:#1c1c24"><span style="transform:scaleX(0.785);transform-origin:right;">97.7</span></div>
<div class="t c" style="left:-4.70px;top:436.85px;width:400px;text-align:right;font-size:14px;line-height:14px;font-weight:normal;color:#1c1c24"><span style="transform:scaleX(0.785);transform-origin:right;">26.5</span></div>
<div class="t w" style="left:125.50px;top:436.85px;width:400px;text-align:right;font-size:14px;line-height:14px;font-weight:normal;color:#000000"><span style="transform:scaleX(0.785);transform-origin:right;">10.1</span></div>
<div class="t w" style="left:268.20px;top:436.85px;width:400px;text-align:right;font-size:14px;line-height:14px;font-weight:normal;color:#000000"><span style="transform:scaleX(0.785);transform-origin:right;">0.18</span></div>
<div class="t w" style="left:405.00px;top:436.85px;width:400px;text-align:right;font-size:14px;line-height:14px;font-weight:normal;color:#000000"><span style="transform:scaleX(0.785);transform-origin:right;">0.19</span></div>
<div class="t w" style="left:544.00px;top:436.85px;width:400px;text-align:right;font-size:14px;line-height:14px;font-weight:normal;color:#000000"><span style="transform:scaleX(0.785);transform-origin:right;">12</span></div>
<div class="t hb" style="left:-0.50px;top:458.77px;width:400px;text-align:left;font-size:12.5px;line-height:12.5px;font-weight:bold;color:#000"><span style="transform:scaleX(0.925);transform-origin:left;">Greece</span></div>
<div class="t c" style="left:-143.20px;top:457.50px;width:400px;text-align:right;font-size:14px;line-height:14px;font-weight:normal;color:#1c1c24"><span style="transform:scaleX(0.785);transform-origin:right;">97.6</span></div>
<div class="t c" style="left:-4.70px;top:457.50px;width:400px;text-align:right;font-size:14px;line-height:14px;font-weight:normal;color:#1c1c24"><span style="transform:scaleX(0.785);transform-origin:right;">3.3</span></div>
<div class="t c" style="left:125.50px;top:457.50px;width:400px;text-align:right;font-size:14px;line-height:14px;font-weight:normal;color:#1c1c24"><span style="transform:scaleX(0.785);transform-origin:right;">0.5</span></div>
<div class="t c" style="left:268.20px;top:457.50px;width:400px;text-align:right;font-size:14px;line-height:14px;font-weight:normal;color:#1c1c24"><span style="transform:scaleX(0.785);transform-origin:right;">0.14</span></div>
<div class="t w" style="left:405.00px;top:457.50px;width:400px;text-align:right;font-size:14px;line-height:14px;font-weight:normal;color:#000000"><span style="transform:scaleX(0.785);transform-origin:right;">0.21</span></div>
<div class="t w" style="left:544.00px;top:457.50px;width:400px;text-align:right;font-size:14px;line-height:14px;font-weight:normal;color:#000000"><span style="transform:scaleX(0.785);transform-origin:right;">15</span></div>
<div class="t hb" style="left:-0.50px;top:479.42px;width:400px;text-align:left;font-size:12.5px;line-height:12.5px;font-weight:bold;color:#000"><span style="transform:scaleX(0.925);transform-origin:left;">Spain</span></div>
<div class="t c" style="left:-143.20px;top:478.15px;width:400px;text-align:right;font-size:14px;line-height:14px;font-weight:normal;color:#1c1c24"><span style="transform:scaleX(0.785);transform-origin:right;">97.6</span></div>
<div class="t c" style="left:-4.70px;top:478.15px;width:400px;text-align:right;font-size:14px;line-height:14px;font-weight:normal;color:#1c1c24"><span style="transform:scaleX(0.785);transform-origin:right;">21.7</span></div>
<div class="t w" style="left:125.50px;top:478.15px;width:400px;text-align:right;font-size:14px;line-height:14px;font-weight:normal;color:#000000"><span style="transform:scaleX(0.785);transform-origin:right;">6.2</span></div>
<div class="t c" style="left:268.20px;top:478.15px;width:400px;text-align:right;font-size:14px;line-height:14px;font-weight:normal;color:#1c1c24"><span style="transform:scaleX(0.785);transform-origin:right;">0.14</span></div>
<div class="t w" style="left:405.00px;top:478.15px;width:400px;text-align:right;font-size:14px;line-height:14px;font-weight:normal;color:#000000"><span style="transform:scaleX(0.785);transform-origin:right;">0.18</span></div>
<div class="t w" style="left:544.00px;top:478.15px;width:400px;text-align:right;font-size:14px;line-height:14px;font-weight:normal;color:#000000"><span style="transform:scaleX(0.785);transform-origin:right;">15</span></div>
<div class="t hb" style="left:-0.50px;top:500.07px;width:400px;text-align:left;font-size:12.5px;line-height:12.5px;font-weight:bold;color:#000"><span style="transform:scaleX(0.925);transform-origin:left;">Finland</span></div>
<div class="t c" style="left:-143.20px;top:498.80px;width:400px;text-align:right;font-size:14px;line-height:14px;font-weight:normal;color:#1c1c24"><span style="transform:scaleX(0.785);transform-origin:right;">97.4</span></div>
<div class="t c" style="left:-4.70px;top:498.80px;width:400px;text-align:right;font-size:14px;line-height:14px;font-weight:normal;color:#1c1c24"><span style="transform:scaleX(0.785);transform-origin:right;">2.7</span></div>
<div class="t c" style="left:125.50px;top:498.80px;width:400px;text-align:right;font-size:14px;line-height:14px;font-weight:normal;color:#1c1c24"><span style="transform:scaleX(0.785);transform-origin:right;">0.9</span></div>
<div class="t c" style="left:268.20px;top:498.80px;width:400px;text-align:right;font-size:14px;line-height:14px;font-weight:normal;color:#1c1c24"><span style="transform:scaleX(0.785);transform-origin:right;">0.09</span></div>
<div class="t c" style="left:405.00px;top:498.80px;width:400px;text-align:right;font-size:14px;line-height:14px;font-weight:normal;color:#1c1c24"><span style="transform:scaleX(0.785);transform-origin:right;">0.10</span></div>
<div class="t w" style="left:544.00px;top:498.80px;width:400px;text-align:right;font-size:14px;line-height:14px;font-weight:normal;color:#000000"><span style="transform:scaleX(0.785);transform-origin:right;">16</span></div>
<div class="t hb" style="left:-0.50px;top:520.72px;width:400px;text-align:left;font-size:12.5px;line-height:12.5px;font-weight:bold;color:#000"><span style="transform:scaleX(0.925);transform-origin:left;">Argentina</span></div>
<div class="t c" style="left:-143.20px;top:519.45px;width:400px;text-align:right;font-size:14px;line-height:14px;font-weight:normal;color:#1c1c24"><span style="transform:scaleX(0.785);transform-origin:right;">97.4</span></div>
<div class="t c" style="left:-4.70px;top:519.45px;width:400px;text-align:right;font-size:14px;line-height:14px;font-weight:normal;color:#1c1c24"><span style="transform:scaleX(0.785);transform-origin:right;">13.5</span></div>
<div class="t c" style="left:125.50px;top:519.45px;width:400px;text-align:right;font-size:14px;line-height:14px;font-weight:normal;color:#1c1c24"><span style="transform:scaleX(0.785);transform-origin:right;">1.5</span></div>
<div class="t w" style="left:268.20px;top:519.45px;width:400px;text-align:right;font-size:14px;line-height:14px;font-weight:normal;color:#000000"><span style="transform:scaleX(0.785);transform-origin:right;">0.20</span></div>
<div class="t c" style="left:405.00px;top:519.45px;width:400px;text-align:right;font-size:14px;line-height:14px;font-weight:normal;color:#1c1c24"><span style="transform:scaleX(0.785);transform-origin:right;">0.29</span></div>
<div class="t w" style="left:544.00px;top:519.45px;width:400px;text-align:right;font-size:14px;line-height:14px;font-weight:normal;color:#000000"><span style="transform:scaleX(0.785);transform-origin:right;">12</span></div>
<div class="t hb" style="left:-0.50px;top:541.37px;width:400px;text-align:left;font-size:12.5px;line-height:12.5px;font-weight:bold;color:#000"><span style="transform:scaleX(0.925);transform-origin:left;">Jamaica*</span></div>
<div class="t c" style="left:-143.20px;top:540.10px;width:400px;text-align:right;font-size:14px;line-height:14px;font-weight:normal;color:#1c1c24"><span style="transform:scaleX(0.785);transform-origin:right;">97.4</span></div>
<div class="t c" style="left:-4.70px;top:540.10px;width:400px;text-align:right;font-size:14px;line-height:14px;font-weight:normal;color:#1c1c24"><span style="transform:scaleX(0.785);transform-origin:right;">20.4</span></div>
<div class="t c" style="left:125.50px;top:540.10px;width:400px;text-align:right;font-size:14px;line-height:14px;font-weight:normal;color:#1c1c24"><span style="transform:scaleX(0.785);transform-origin:right;">19.3</span></div>
<div class="t c" style="left:268.20px;top:540.10px;width:400px;text-align:right;font-size:14px;line-height:14px;font-weight:normal;color:#1c1c24"><span style="transform:scaleX(0.785);transform-origin:right;">0.09</span></div>
<div class="t c" style="left:405.00px;top:540.10px;width:400px;text-align:right;font-size:14px;line-height:14px;font-weight:normal;color:#1c1c24"><span style="transform:scaleX(0.785);transform-origin:right;">0.14</span></div>
<div class="t w" style="left:544.00px;top:540.10px;width:400px;text-align:right;font-size:14px;line-height:14px;font-weight:normal;color:#000000"><span style="transform:scaleX(0.785);transform-origin:right;">12</span></div>
<div class="t hb" style="left:-0.50px;top:562.02px;width:400px;text-align:left;font-size:12.5px;line-height:12.5px;font-weight:bold;color:#000"><span style="transform:scaleX(0.925);transform-origin:left;">Malta</span></div>
<div class="t c" style="left:-143.20px;top:560.75px;width:400px;text-align:right;font-size:14px;line-height:14px;font-weight:normal;color:#1c1c24"><span style="transform:scaleX(0.785);transform-origin:right;">97.3</span></div>
<div class="t c" style="left:-4.70px;top:560.75px;width:400px;text-align:right;font-size:14px;line-height:14px;font-weight:normal;color:#1c1c24"><span style="transform:scaleX(0.785);transform-origin:right;">4.6</span></div>
<div class="t c" style="left:125.50px;top:560.75px;width:400px;text-align:right;font-size:14px;line-height:14px;font-weight:normal;color:#1c1c24"><span style="transform:scaleX(0.785);transform-origin:right;">22.3</span></div>
<div class="t c" style="left:268.20px;top:560.75px;width:400px;text-align:right;font-size:14px;line-height:14px;font-weight:normal;color:#1c1c24"><span style="transform:scaleX(0.785);transform-origin:right;">0.11</span></div>
<div class="t c" style="left:405.00px;top:560.75px;width:400px;text-align:right;font-size:14px;line-height:14px;font-weight:normal;color:#1c1c24"><span style="transform:scaleX(0.785);transform-origin:right;">0.14</span></div>
<div class="t w" style="left:544.00px;top:560.75px;width:400px;text-align:right;font-size:14px;line-height:14px;font-weight:normal;color:#000000"><span style="transform:scaleX(0.785);transform-origin:right;">16</span></div>
<div class="t hb" style="left:-0.50px;top:582.67px;width:400px;text-align:left;font-size:12.5px;line-height:12.5px;font-weight:bold;color:#000"><span style="transform:scaleX(0.925);transform-origin:left;">Austria</span></div>
<div class="t c" style="left:-143.20px;top:581.40px;width:400px;text-align:right;font-size:14px;line-height:14px;font-weight:normal;color:#1c1c24"><span style="transform:scaleX(0.785);transform-origin:right;">97.3</span></div>
<div class="t c" style="left:-4.70px;top:581.40px;width:400px;text-align:right;font-size:14px;line-height:14px;font-weight:normal;color:#1c1c24"><span style="transform:scaleX(0.785);transform-origin:right;">15.6</span></div>
<div class="t c" style="left:125.50px;top:581.40px;width:400px;text-align:right;font-size:14px;line-height:14px;font-weight:normal;color:#1c1c24"><span style="transform:scaleX(0.785);transform-origin:right;">3.5</span></div>
<div class="t c" style="left:268.20px;top:581.40px;width:400px;text-align:right;font-size:14px;line-height:14px;font-weight:normal;color:#1c1c24"><span style="transform:scaleX(0.785);transform-origin:right;">0.24</span></div>
<div class="t w" style="left:405.00px;top:581.40px;width:400px;text-align:right;font-size:14px;line-height:14px;font-weight:normal;color:#000000"><span style="transform:scaleX(0.785);transform-origin:right;">0.22</span></div>
<div class="t w" style="left:544.00px;top:581.40px;width:400px;text-align:right;font-size:14px;line-height:14px;font-weight:normal;color:#000000"><span style="transform:scaleX(0.785);transform-origin:right;">10</span></div>
<div class="t hb" style="left:-0.50px;top:603.32px;width:400px;text-align:left;font-size:12.5px;line-height:12.5px;font-weight:bold;color:#000"><span style="transform:scaleX(0.925);transform-origin:left;">Italy</span></div>
<div class="t c" style="left:-141.70px;top:602.05px;width:400px;text-align:right;font-size:14px;line-height:14px;font-weight:normal;color:#1c1c24"><span style="transform:scaleX(0.785);transform-origin:right;">97.2</span></div>
<div class="t w" style="left:-4.70px;top:602.05px;width:400px;text-align:right;font-size:14px;line-height:14px;font-weight:normal;color:#000000"><span style="transform:scaleX(0.785);transform-origin:right;">8.6</span></div>
<div class="t c" style="left:125.50px;top:602.05px;width:400px;text-align:right;font-size:14px;line-height:14px;font-weight:normal;color:#1c1c24"><span style="transform:scaleX(0.785);transform-origin:right;">1.1</span></div>
<div class="t w" style="left:268.20px;top:602.05px;width:400px;text-align:right;font-size:14px;line-height:14px;font-weight:normal;color:#000000"><span style="transform:scaleX(0.785);transform-origin:right;">0.16</span></div>
<div class="t w" style="left:405.00px;top:602.05px;width:400px;text-align:right;font-size:14px;line-height:14px;font-weight:normal;color:#000000"><span style="transform:scaleX(0.785);transform-origin:right;">0.17</span></div>
<div class="t w" style="left:544.00px;top:602.05px;width:400px;text-align:right;font-size:14px;line-height:14px;font-weight:normal;color:#000000"><span style="transform:scaleX(0.785);transform-origin:right;">14</span></div>
<div class="t hb" style="left:-0.50px;top:623.97px;width:400px;text-align:left;font-size:12.5px;line-height:12.5px;font-weight:bold;color:#000"><span style="transform:scaleX(0.925);transform-origin:left;">Romania</span></div>
<div class="t c" style="left:-141.70px;top:622.70px;width:400px;text-align:right;font-size:14px;line-height:14px;font-weight:normal;color:#1c1c24"><span style="transform:scaleX(0.785);transform-origin:right;">97.1</span></div>
<div class="t c" style="left:-4.70px;top:622.70px;width:400px;text-align:right;font-size:14px;line-height:14px;font-weight:normal;color:#1c1c24"><span style="transform:scaleX(0.785);transform-origin:right;">5.0</span></div>
<div class="t c" style="left:125.50px;top:622.70px;width:400px;text-align:right;font-size:14px;line-height:14px;font-weight:normal;color:#1c1c24"><span style="transform:scaleX(0.785);transform-origin:right;">13.5</span></div>
<div class="t c" style="left:268.20px;top:622.70px;width:400px;text-align:right;font-size:14px;line-height:14px;font-weight:normal;color:#1c1c24"><span style="transform:scaleX(0.785);transform-origin:right;">0.25</span></div>
<div class="t c" style="left:405.00px;top:622.70px;width:400px;text-align:right;font-size:14px;line-height:14px;font-weight:normal;color:#1c1c24"><span style="transform:scaleX(0.785);transform-origin:right;">0.30</span></div>
<div class="t w" style="left:544.00px;top:622.70px;width:400px;text-align:right;font-size:14px;line-height:14px;font-weight:normal;color:#000000"><span style="transform:scaleX(0.785);transform-origin:right;">15</span></div>
<div class="t hb" style="left:-0.50px;top:644.62px;width:400px;text-align:left;font-size:12.5px;line-height:12.5px;font-weight:bold;color:#000"><span style="transform:scaleX(0.925);transform-origin:left;">Viet Nam</span></div>
<div class="t c" style="left:-141.70px;top:643.35px;width:400px;text-align:right;font-size:14px;line-height:14px;font-weight:normal;color:#1c1c24"><span style="transform:scaleX(0.785);transform-origin:right;">97.0</span></div>
<div class="t c" style="left:-4.70px;top:643.35px;width:400px;text-align:right;font-size:14px;line-height:14px;font-weight:normal;color:#1c1c24"><span style="transform:scaleX(0.785);transform-origin:right;">4.7</span></div>
<div class="t c" style="left:125.50px;top:643.35px;width:400px;text-align:right;font-size:14px;line-height:14px;font-weight:normal;color:#1c1c24"><span style="transform:scaleX(0.785);transform-origin:right;">19.3</span></div>
<div class="t c" style="left:268.20px;top:643.35px;width:400px;text-align:right;font-size:14px;line-height:14px;font-weight:normal;color:#1c1c24"><span style="transform:scaleX(0.785);transform-origin:right;">0.24</span></div>
<div class="t c" style="left:405.00px;top:643.35px;width:400px;text-align:right;font-size:14px;line-height:14px;font-weight:normal;color:#1c1c24"><span style="transform:scaleX(0.785);transform-origin:right;">0.26</span></div>
<div class="t w" style="left:544.00px;top:643.35px;width:400px;text-align:right;font-size:14px;line-height:14px;font-weight:normal;color:#000000"><span style="transform:scaleX(0.785);transform-origin:right;">15</span></div>
<div class="t hb" style="left:-0.50px;top:665.27px;width:400px;text-align:left;font-size:12.5px;line-height:12.5px;font-weight:bold;color:#000"><span style="transform:scaleX(0.925);transform-origin:left;">Peru</span></div>
<div class="t c" style="left:-141.70px;top:664.00px;width:400px;text-align:right;font-size:14px;line-height:14px;font-weight:normal;color:#1c1c24"><span style="transform:scaleX(0.785);transform-origin:right;">96.8</span></div>
<div class="t c" style="left:-4.70px;top:664.00px;width:400px;text-align:right;font-size:14px;line-height:14px;font-weight:normal;color:#1c1c24"><span style="transform:scaleX(0.785);transform-origin:right;">13.5</span></div>
<div class="t c" style="left:125.50px;top:664.00px;width:400px;text-align:right;font-size:14px;line-height:14px;font-weight:normal;color:#1c1c24"><span style="transform:scaleX(0.785);transform-origin:right;">4.1</span></div>
<div class="t c" style="left:268.20px;top:664.00px;width:400px;text-align:right;font-size:14px;line-height:14px;font-weight:normal;color:#1c1c24"><span style="transform:scaleX(0.785);transform-origin:right;">0.34</span></div>
<div class="t c" style="left:405.00px;top:664.00px;width:400px;text-align:right;font-size:14px;line-height:14px;font-weight:normal;color:#1c1c24"><span style="transform:scaleX(0.785);transform-origin:right;">0.34</span></div>
<div class="t w" style="left:544.00px;top:664.00px;width:400px;text-align:right;font-size:14px;line-height:14px;font-weight:normal;color:#000000"><span style="transform:scaleX(0.785);transform-origin:right;">14</span></div>
<div class="t hb" style="left:-0.50px;top:685.92px;width:400px;text-align:left;font-size:12.5px;line-height:12.5px;font-weight:bold;color:#000"><span style="transform:scaleX(0.925);transform-origin:left;">Czech Republic</span></div>
<div class="t c" style="left:-141.70px;top:684.65px;width:400px;text-align:right;font-size:14px;line-height:14px;font-weight:normal;color:#1c1c24"><span style="transform:scaleX(0.785);transform-origin:right;">96.7</span></div>
<div class="t c" style="left:-4.70px;top:684.65px;width:400px;text-align:right;font-size:14px;line-height:14px;font-weight:normal;color:#1c1c24"><span style="transform:scaleX(0.785);transform-origin:right;">4.2</span></div>
<div class="t c" style="left:125.50px;top:684.65px;width:400px;text-align:right;font-size:14px;line-height:14px;font-weight:normal;color:#1c1c24"><span style="transform:scaleX(0.785);transform-origin:right;">2.9</span></div>
<div class="t c" style="left:268.20px;top:684.65px;width:400px;text-align:right;font-size:14px;line-height:14px;font-weight:normal;color:#1c1c24"><span style="transform:scaleX(0.785);transform-origin:right;">0.23</span></div>
<div class="t c" style="left:405.00px;top:684.65px;width:400px;text-align:right;font-size:14px;line-height:14px;font-weight:normal;color:#1c1c24"><span style="transform:scaleX(0.785);transform-origin:right;">0.26</span></div>
<div class="t w" style="left:544.00px;top:684.65px;width:400px;text-align:right;font-size:14px;line-height:14px;font-weight:normal;color:#000000"><span style="transform:scaleX(0.785);transform-origin:right;">11</span></div>
<div class="t hb" style="left:-0.50px;top:706.57px;width:400px;text-align:left;font-size:12.5px;line-height:12.5px;font-weight:bold;color:#000"><span style="transform:scaleX(0.925);transform-origin:left;">Netherlands*</span></div>
<div class="t c" style="left:-141.70px;top:705.30px;width:400px;text-align:right;font-size:14px;line-height:14px;font-weight:normal;color:#1c1c24"><span style="transform:scaleX(0.785);transform-origin:right;">96.6</span></div>
<div class="t c" style="left:-4.70px;top:705.30px;width:400px;text-align:right;font-size:14px;line-height:14px;font-weight:normal;color:#1c1c24"><span style="transform:scaleX(0.785);transform-origin:right;">23.3</span></div>
<div class="t c" style="left:125.50px;top:705.30px;width:400px;text-align:right;font-size:14px;line-height:14px;font-weight:normal;color:#1c1c24"><span style="transform:scaleX(0.785);transform-origin:right;">37.2</span></div>
<div class="t c" style="left:268.20px;top:705.30px;width:400px;text-align:right;font-size:14px;line-height:14px;font-weight:normal;color:#1c1c24"><span style="transform:scaleX(0.785);transform-origin:right;">0.14</span></div>
<div class="t w" style="left:405.00px;top:705.30px;width:400px;text-align:right;font-size:14px;line-height:14px;font-weight:normal;color:#000000"><span style="transform:scaleX(0.785);transform-origin:right;">0.18</span></div>
<div class="t w" style="left:544.00px;top:705.30px;width:400px;text-align:right;font-size:14px;line-height:14px;font-weight:normal;color:#000000"><span style="transform:scaleX(0.785);transform-origin:right;">12</span></div>
<div class="t hb" style="left:-0.50px;top:727.22px;width:400px;text-align:left;font-size:12.5px;line-height:12.5px;font-weight:bold;color:#000"><span style="transform:scaleX(0.925);transform-origin:left;">Estonia</span></div>
<div class="t c" style="left:-141.70px;top:725.95px;width:400px;text-align:right;font-size:14px;line-height:14px;font-weight:normal;color:#1c1c24"><span style="transform:scaleX(0.785);transform-origin:right;">96.5</span></div>
<div class="t c" style="left:-4.70px;top:725.95px;width:400px;text-align:right;font-size:14px;line-height:14px;font-weight:normal;color:#1c1c24"><span style="transform:scaleX(0.785);transform-origin:right;">3.6</span></div>
<div class="t w" style="left:127.10px;top:725.95px;width:400px;text-align:right;font-size:14px;line-height:14px;font-weight:normal;color:#000000"><span style="transform:scaleX(0.785);transform-origin:right;">6.3</span></div>
<div class="t w" style="left:268.20px;top:725.95px;width:400px;text-align:right;font-size:14px;line-height:14px;font-weight:normal;color:#000000"><span style="transform:scaleX(0.785);transform-origin:right;">0.17</span></div>
<div class="t w" style="left:405.00px;top:725.95px;width:400px;text-align:right;font-size:14px;line-height:14px;font-weight:normal;color:#000000"><span style="transform:scaleX(0.785);transform-origin:right;">0.18</span></div>
<div class="t w" style="left:544.00px;top:725.95px;width:400px;text-align:right;font-size:14px;line-height:14px;font-weight:normal;color:#000000"><span style="transform:scaleX(0.785);transform-origin:right;">16</span></div>
<div class="t hb" style="left:-0.50px;top:747.87px;width:400px;text-align:left;font-size:12.5px;line-height:12.5px;font-weight:bold;color:#000"><span style="transform:scaleX(0.925);transform-origin:left;">Uruguay</span></div>
<div class="t c" style="left:-141.70px;top:746.60px;width:400px;text-align:right;font-size:14px;line-height:14px;font-weight:normal;color:#1c1c24"><span style="transform:scaleX(0.785);transform-origin:right;">96.4</span></div>
<div class="t c" style="left:-4.70px;top:746.60px;width:400px;text-align:right;font-size:14px;line-height:14px;font-weight:normal;color:#1c1c24"><span style="transform:scaleX(0.785);transform-origin:right;">24.0</span></div>
<div class="t c" style="left:125.80px;top:746.60px;width:400px;text-align:right;font-size:14px;line-height:14px;font-weight:normal;color:#1c1c24"><span style="transform:scaleX(0.785);transform-origin:right;">12.0</span></div>
<div class="t w" style="left:268.20px;top:746.60px;width:400px;text-align:right;font-size:14px;line-height:14px;font-weight:normal;color:#000000"><span style="transform:scaleX(0.785);transform-origin:right;">0.16</span></div>
<div class="t c" style="left:405.00px;top:746.60px;width:400px;text-align:right;font-size:14px;line-height:14px;font-weight:normal;color:#1c1c24"><span style="transform:scaleX(0.785);transform-origin:right;">0.29</span></div>
<div class="t w" style="left:544.00px;top:746.60px;width:400px;text-align:right;font-size:14px;line-height:14px;font-weight:normal;color:#000000"><span style="transform:scaleX(0.785);transform-origin:right;">15</span></div>
<div class="t hb" style="left:-0.50px;top:768.52px;width:400px;text-align:left;font-size:12.5px;line-height:12.5px;font-weight:bold;color:#000"><span style="transform:scaleX(0.925);transform-origin:left;">Norway</span></div>
<div class="t c" style="left:-141.70px;top:767.25px;width:400px;text-align:right;font-size:14px;line-height:14px;font-weight:normal;color:#1c1c24"><span style="transform:scaleX(0.785);transform-origin:right;">96.1</span></div>
<div class="t w" style="left:-4.70px;top:767.25px;width:400px;text-align:right;font-size:14px;line-height:14px;font-weight:normal;color:#000000"><span style="transform:scaleX(0.785);transform-origin:right;">0.0</span></div>
<div class="t c" style="left:127.10px;top:767.25px;width:400px;text-align:right;font-size:14px;line-height:14px;font-weight:normal;color:#1c1c24"><span style="transform:scaleX(0.785);transform-origin:right;">0.0</span></div>
<div class="t c" style="left:268.20px;top:767.25px;width:400px;text-align:right;font-size:14px;line-height:14px;font-weight:normal;color:#1c1c24"><span style="transform:scaleX(0.785);transform-origin:right;">0.10</span></div>
<div class="t c" style="left:405.00px;top:767.25px;width:400px;text-align:right;font-size:14px;line-height:14px;font-weight:normal;color:#1c1c24"><span style="transform:scaleX(0.785);transform-origin:right;">0.11</span></div>
<div class="t w" style="left:544.00px;top:767.25px;width:400px;text-align:right;font-size:14px;line-height:14px;font-weight:normal;color:#000000"><span style="transform:scaleX(0.785);transform-origin:right;">16</span></div>
<div class="t hb" style="left:-0.50px;top:789.17px;width:400px;text-align:left;font-size:12.5px;line-height:12.5px;font-weight:bold;color:#000"><span style="transform:scaleX(0.925);transform-origin:left;">Latvia*</span></div>
<div class="t c" style="left:-141.70px;top:787.90px;width:400px;text-align:right;font-size:14px;line-height:14px;font-weight:normal;color:#1c1c24"><span style="transform:scaleX(0.785);transform-origin:right;">96.0</span></div>
<div class="t c" style="left:-4.70px;top:787.90px;width:400px;text-align:right;font-size:14px;line-height:14px;font-weight:normal;color:#1c1c24"><span style="transform:scaleX(0.785);transform-origin:right;">2.9</span></div>
<div class="t w" style="left:127.10px;top:787.90px;width:400px;text-align:right;font-size:14px;line-height:14px;font-weight:normal;color:#000000"><span style="transform:scaleX(0.785);transform-origin:right;">6.6</span></div>
<div class="t w" style="left:268.20px;top:787.90px;width:400px;text-align:right;font-size:14px;line-height:14px;font-weight:normal;color:#000000"><span style="transform:scaleX(0.785);transform-origin:right;">0.19</span></div>
<div class="t c" style="left:405.00px;top:787.90px;width:400px;text-align:right;font-size:14px;line-height:14px;font-weight:normal;color:#1c1c24"><span style="transform:scaleX(0.785);transform-origin:right;">0.16</span></div>
<div class="t w" style="left:544.00px;top:787.90px;width:400px;text-align:right;font-size:14px;line-height:14px;font-weight:normal;color:#000000"><span style="transform:scaleX(0.785);transform-origin:right;">16</span></div>
<div class="t hb" style="left:-0.50px;top:809.82px;width:400px;text-align:left;font-size:12.5px;line-height:12.5px;font-weight:bold;color:#000"><span style="transform:scaleX(0.925);transform-origin:left;">Serbia</span></div>
<div class="t c" style="left:-141.70px;top:808.55px;width:400px;text-align:right;font-size:14px;line-height:14px;font-weight:normal;color:#1c1c24"><span style="transform:scaleX(0.785);transform-origin:right;">95.8</span></div>
<div class="t c" style="left:-4.70px;top:808.55px;width:400px;text-align:right;font-size:14px;line-height:14px;font-weight:normal;color:#1c1c24"><span style="transform:scaleX(0.785);transform-origin:right;">1.6</span></div>
<div class="t w" style="left:127.10px;top:808.55px;width:400px;text-align:right;font-size:14px;line-height:14px;font-weight:normal;color:#000000"><span style="transform:scaleX(0.785);transform-origin:right;">8.3</span></div>
<div class="t w" style="left:268.20px;top:808.55px;width:400px;text-align:right;font-size:14px;line-height:14px;font-weight:normal;color:#000000"><span style="transform:scaleX(0.785);transform-origin:right;">0.15</span></div>
<div class="t w" style="left:406.40px;top:808.55px;width:400px;text-align:right;font-size:14px;line-height:14px;font-weight:normal;color:#000000"><span style="transform:scaleX(0.785);transform-origin:right;">0.21</span></div>
<div class="t w" style="left:544.00px;top:808.55px;width:400px;text-align:right;font-size:14px;line-height:14px;font-weight:normal;color:#000000"><span style="transform:scaleX(0.785);transform-origin:right;">15</span></div>
<div class="t hb" style="left:-0.50px;top:830.47px;width:400px;text-align:left;font-size:12.5px;line-height:12.5px;font-weight:bold;color:#000"><span style="transform:scaleX(0.925);transform-origin:left;">Germany</span></div>
<div class="t c" style="left:-141.70px;top:829.20px;width:400px;text-align:right;font-size:14px;line-height:14px;font-weight:normal;color:#1c1c24"><span style="transform:scaleX(0.785);transform-origin:right;">95.8</span></div>
<div class="t c" style="left:-4.70px;top:829.20px;width:400px;text-align:right;font-size:14px;line-height:14px;font-weight:normal;color:#1c1c24"><span style="transform:scaleX(0.785);transform-origin:right;">19.2</span></div>
<div class="t w" style="left:125.80px;top:829.20px;width:400px;text-align:right;font-size:14px;line-height:14px;font-weight:normal;color:#000000"><span style="transform:scaleX(0.785);transform-origin:right;">10.0</span></div>
<div class="t w" style="left:268.20px;top:829.20px;width:400px;text-align:right;font-size:14px;line-height:14px;font-weight:normal;color:#000000"><span style="transform:scaleX(0.785);transform-origin:right;">0.18</span></div>
<div class="t w" style="left:406.40px;top:829.20px;width:400px;text-align:right;font-size:14px;line-height:14px;font-weight:normal;color:#000000"><span style="transform:scaleX(0.785);transform-origin:right;">0.22</span></div>
<div class="t w" style="left:544.00px;top:829.20px;width:400px;text-align:right;font-size:14px;line-height:14px;font-weight:normal;color:#000000"><span style="transform:scaleX(0.785);transform-origin:right;">10</span></div>
<div class="t hb" style="left:-0.50px;top:851.12px;width:400px;text-align:left;font-size:12.5px;line-height:12.5px;font-weight:bold;color:#000"><span style="transform:scaleX(0.925);transform-origin:left;">Korea</span></div>
<div class="t c" style="left:-141.70px;top:849.85px;width:400px;text-align:right;font-size:14px;line-height:14px;font-weight:normal;color:#1c1c24"><span style="transform:scaleX(0.785);transform-origin:right;">95.7</span></div>
<div class="t c" style="left:-4.70px;top:849.85px;width:400px;text-align:right;font-size:14px;line-height:14px;font-weight:normal;color:#1c1c24"><span style="transform:scaleX(0.785);transform-origin:right;">3.3</span></div>
<div class="t w" style="left:127.10px;top:849.85px;width:400px;text-align:right;font-size:14px;line-height:14px;font-weight:normal;color:#000000"><span style="transform:scaleX(0.785);transform-origin:right;">8.3</span></div>
<div class="t c" style="left:268.20px;top:849.85px;width:400px;text-align:right;font-size:14px;line-height:14px;font-weight:normal;color:#1c1c24"><span style="transform:scaleX(0.785);transform-origin:right;">0.14</span></div>
<div class="t c" style="left:406.40px;top:849.85px;width:400px;text-align:right;font-size:14px;line-height:14px;font-weight:normal;color:#1c1c24"><span style="transform:scaleX(0.785);transform-origin:right;">0.13</span></div>
<div class="t w" style="left:544.00px;top:849.85px;width:400px;text-align:right;font-size:14px;line-height:14px;font-weight:normal;color:#000000"><span style="transform:scaleX(0.785);transform-origin:right;">15</span></div>
<div class="t hb" style="left:-0.50px;top:871.77px;width:400px;text-align:left;font-size:12.5px;line-height:12.5px;font-weight:bold;color:#000"><span style="transform:scaleX(0.925);transform-origin:left;">Switzerland</span></div>
<div class="t c" style="left:-141.70px;top:870.50px;width:400px;text-align:right;font-size:14px;line-height:14px;font-weight:normal;color:#1c1c24"><span style="transform:scaleX(0.785);transform-origin:right;">95.5</span></div>
<div class="t c" style="left:-4.70px;top:870.50px;width:400px;text-align:right;font-size:14px;line-height:14px;font-weight:normal;color:#1c1c24"><span style="transform:scaleX(0.785);transform-origin:right;">13.4</span></div>
<div class="t c" style="left:125.80px;top:870.50px;width:400px;text-align:right;font-size:14px;line-height:14px;font-weight:normal;color:#1c1c24"><span style="transform:scaleX(0.785);transform-origin:right;">26.1</span></div>
<div class="t w" style="left:268.20px;top:870.50px;width:400px;text-align:right;font-size:14px;line-height:14px;font-weight:normal;color:#000000"><span style="transform:scaleX(0.785);transform-origin:right;">0.15</span></div>
<div class="t w" style="left:406.40px;top:870.50px;width:400px;text-align:right;font-size:14px;line-height:14px;font-weight:normal;color:#000000"><span style="transform:scaleX(0.785);transform-origin:right;">0.20</span></div>
<div class="t w" style="left:544.00px;top:870.50px;width:400px;text-align:right;font-size:14px;line-height:14px;font-weight:normal;color:#000000"><span style="transform:scaleX(0.785);transform-origin:right;">12</span></div>
<div class="t hb" style="left:-0.50px;top:892.42px;width:400px;text-align:left;font-size:12.5px;line-height:12.5px;font-weight:bold;color:#000"><span style="transform:scaleX(0.925);transform-origin:left;">Sweden</span></div>
<div class="t c" style="left:-141.70px;top:891.15px;width:400px;text-align:right;font-size:14px;line-height:14px;font-weight:normal;color:#1c1c24"><span style="transform:scaleX(0.785);transform-origin:right;">95.4</span></div>
<div class="t c" style="left:-4.70px;top:891.15px;width:400px;text-align:right;font-size:14px;line-height:14px;font-weight:normal;color:#1c1c24"><span style="transform:scaleX(0.785);transform-origin:right;">4.0</span></div>
<div class="t c" style="left:127.10px;top:891.15px;width:400px;text-align:right;font-size:14px;line-height:14px;font-weight:normal;color:#1c1c24"><span style="transform:scaleX(0.785);transform-origin:right;">0.0</span></div>
<div class="t c" style="left:268.20px;top:891.15px;width:400px;text-align:right;font-size:14px;line-height:14px;font-weight:normal;color:#1c1c24"><span style="transform:scaleX(0.785);transform-origin:right;">0.13</span></div>
<div class="t c" style="left:406.40px;top:891.15px;width:400px;text-align:right;font-size:14px;line-height:14px;font-weight:normal;color:#1c1c24"><span style="transform:scaleX(0.785);transform-origin:right;">0.15</span></div>
<div class="t w" style="left:544.00px;top:891.15px;width:400px;text-align:right;font-size:14px;line-height:14px;font-weight:normal;color:#000000"><span style="transform:scaleX(0.785);transform-origin:right;">16</span></div>
<div class="t hb" style="left:0.50px;top:913.07px;width:400px;text-align:left;font-size:12.5px;line-height:12.5px;font-weight:bold;color:#000"><span style="transform:scaleX(0.925);transform-origin:left;">New Zealand*</span></div>
<div class="t c" style="left:-141.70px;top:911.80px;width:400px;text-align:right;font-size:14px;line-height:14px;font-weight:normal;color:#1c1c24"><span style="transform:scaleX(0.785);transform-origin:right;">95.1</span></div>
<div class="t c" style="left:-4.70px;top:911.80px;width:400px;text-align:right;font-size:14px;line-height:14px;font-weight:normal;color:#1c1c24"><span style="transform:scaleX(0.785);transform-origin:right;">4.9</span></div>
<div class="t c" style="left:127.10px;top:911.80px;width:400px;text-align:right;font-size:14px;line-height:14px;font-weight:normal;color:#1c1c24"><span style="transform:scaleX(0.785);transform-origin:right;">1.4</span></div>
<div class="t w" style="left:268.20px;top:911.80px;width:400px;text-align:right;font-size:14px;line-height:14px;font-weight:normal;color:#000000"><span style="transform:scaleX(0.785);transform-origin:right;">0.16</span></div>
<div class="t c" style="left:406.40px;top:911.80px;width:400px;text-align:right;font-size:14px;line-height:14px;font-weight:normal;color:#1c1c24"><span style="transform:scaleX(0.785);transform-origin:right;">0.12</span></div>
<div class="t w" style="left:544.00px;top:911.80px;width:400px;text-align:right;font-size:14px;line-height:14px;font-weight:normal;color:#000000"><span style="transform:scaleX(0.785);transform-origin:right;">16</span></div>
<div class="t hb" style="left:0.50px;top:933.72px;width:400px;text-align:left;font-size:12.5px;line-height:12.5px;font-weight:bold;color:#000"><span style="transform:scaleX(0.925);transform-origin:left;">Chile</span></div>
<div class="t c" style="left:-141.70px;top:932.45px;width:400px;text-align:right;font-size:14px;line-height:14px;font-weight:normal;color:#1c1c24"><span style="transform:scaleX(0.785);transform-origin:right;">95.0</span></div>
<div class="t c" style="left:-4.70px;top:932.45px;width:400px;text-align:right;font-size:14px;line-height:14px;font-weight:normal;color:#1c1c24"><span style="transform:scaleX(0.785);transform-origin:right;">16.8</span></div>
<div class="t c" style="left:127.10px;top:932.45px;width:400px;text-align:right;font-size:14px;line-height:14px;font-weight:normal;color:#1c1c24"><span style="transform:scaleX(0.785);transform-origin:right;">2.5</span></div>
<div class="t w" style="left:268.20px;top:932.45px;width:400px;text-align:right;font-size:14px;line-height:14px;font-weight:normal;color:#000000"><span style="transform:scaleX(0.785);transform-origin:right;">0.20</span></div>
<div class="t c" style="left:406.40px;top:932.45px;width:400px;text-align:right;font-size:14px;line-height:14px;font-weight:normal;color:#1c1c24"><span style="transform:scaleX(0.785);transform-origin:right;">0.34</span></div>
<div class="t w" style="left:544.00px;top:932.45px;width:400px;text-align:right;font-size:14px;line-height:14px;font-weight:normal;color:#000000"><span style="transform:scaleX(0.785);transform-origin:right;">16</span></div>
<div class="t hb" style="left:0.50px;top:954.37px;width:400px;text-align:left;font-size:12.5px;line-height:12.5px;font-weight:bold;color:#000"><span style="transform:scaleX(0.925);transform-origin:left;">Moldova</span></div>
<div class="t w" style="left:-141.70px;top:953.10px;width:400px;text-align:right;font-size:14px;line-height:14px;font-weight:normal;color:#000000"><span style="transform:scaleX(0.785);transform-origin:right;">94.9</span></div>
<div class="t c" style="left:-4.70px;top:953.10px;width:400px;text-align:right;font-size:14px;line-height:14px;font-weight:normal;color:#1c1c24"><span style="transform:scaleX(0.785);transform-origin:right;">2.9</span></div>
<div class="t w" style="left:127.10px;top:953.10px;width:400px;text-align:right;font-size:14px;line-height:14px;font-weight:normal;color:#000000"><span style="transform:scaleX(0.785);transform-origin:right;">4.4</span></div>
<div class="t w" style="left:268.20px;top:953.10px;width:400px;text-align:right;font-size:14px;line-height:14px;font-weight:normal;color:#000000"><span style="transform:scaleX(0.785);transform-origin:right;">0.19</span></div>
<div class="t c" style="left:406.40px;top:953.10px;width:400px;text-align:right;font-size:14px;line-height:14px;font-weight:normal;color:#1c1c24"><span style="transform:scaleX(0.785);transform-origin:right;">0.25</span></div>
<div class="t w" style="left:544.00px;top:953.10px;width:400px;text-align:right;font-size:14px;line-height:14px;font-weight:normal;color:#000000"><span style="transform:scaleX(0.785);transform-origin:right;">16</span></div>
<div class="t hb" style="left:0.50px;top:975.02px;width:400px;text-align:left;font-size:12.5px;line-height:12.5px;font-weight:bold;color:#000"><span style="transform:scaleX(0.925);transform-origin:left;">Malaysia</span></div>
<div class="t w" style="left:-141.70px;top:973.75px;width:400px;text-align:right;font-size:14px;line-height:14px;font-weight:normal;color:#000000"><span style="transform:scaleX(0.785);transform-origin:right;">94.8</span></div>
<div class="t w" style="left:-4.70px;top:973.75px;width:400px;text-align:right;font-size:14px;line-height:14px;font-weight:bold;color:#000000"><span style="transform:scaleX(0.785);transform-origin:right;">w</span></div>
<div class="t c" style="left:125.80px;top:973.75px;width:400px;text-align:right;font-size:14px;line-height:14px;font-weight:normal;color:#1c1c24"><span style="transform:scaleX(0.785);transform-origin:right;">29.6</span></div>
<div class="t c" style="left:268.20px;top:973.75px;width:400px;text-align:right;font-size:14px;line-height:14px;font-weight:normal;color:#1c1c24"><span style="transform:scaleX(0.785);transform-origin:right;">0.15</span></div>
<div class="t w" style="left:406.40px;top:973.75px;width:400px;text-align:right;font-size:14px;line-height:14px;font-weight:normal;color:#000000"><span style="transform:scaleX(0.785);transform-origin:right;">0.23</span></div>
<div class="t w" style="left:544.00px;top:973.75px;width:400px;text-align:right;font-size:14px;line-height:14px;font-weight:normal;color:#000000"><span style="transform:scaleX(0.785);transform-origin:right;">15</span></div>
<div class="t hb" style="left:0.50px;top:995.67px;width:400px;text-align:left;font-size:12.5px;line-height:12.5px;font-weight:bold;color:#000"><span style="transform:scaleX(0.925);transform-origin:left;">United Kingdom*</span></div>
<div class="t w" style="left:-141.70px;top:994.40px;width:400px;text-align:right;font-size:14px;line-height:14px;font-weight:normal;color:#000000"><span style="transform:scaleX(0.785);transform-origin:right;">94.7</span></div>
<div class="t c" style="left:-4.70px;top:994.40px;width:400px;text-align:right;font-size:14px;line-height:14px;font-weight:normal;color:#1c1c24"><span style="transform:scaleX(0.785);transform-origin:right;">2.1</span></div>
<div class="t w" style="left:127.10px;top:994.40px;width:400px;text-align:right;font-size:14px;line-height:14px;font-weight:normal;color:#000000"><span style="transform:scaleX(0.785);transform-origin:right;">5.0</span></div>
<div class="t w" style="left:268.20px;top:994.40px;width:400px;text-align:right;font-size:14px;line-height:14px;font-weight:normal;color:#000000"><span style="transform:scaleX(0.785);transform-origin:right;">0.16</span></div>
<div class="t w" style="left:406.40px;top:994.40px;width:400px;text-align:right;font-size:14px;line-height:14px;font-weight:normal;color:#000000"><span style="transform:scaleX(0.785);transform-origin:right;">0.19</span></div>
<div class="t w" style="left:544.00px;top:994.40px;width:400px;text-align:right;font-size:14px;line-height:14px;font-weight:normal;color:#000000"><span style="transform:scaleX(0.785);transform-origin:right;">16</span></div>
<div class="t hb" style="left:0.50px;top:1016.32px;width:400px;text-align:left;font-size:12.5px;line-height:12.5px;font-weight:bold;color:#000"><span style="transform:scaleX(0.925);transform-origin:left;">Ireland*</span></div>
<div class="t w" style="left:-141.70px;top:1015.05px;width:400px;text-align:right;font-size:14px;line-height:14px;font-weight:normal;color:#000000"><span style="transform:scaleX(0.785);transform-origin:right;">94.7</span></div>
<div class="t c" style="left:-4.70px;top:1015.05px;width:400px;text-align:right;font-size:14px;line-height:14px;font-weight:normal;color:#1c1c24"><span style="transform:scaleX(0.785);transform-origin:right;">3.8</span></div>
<div class="t c" style="left:127.10px;top:1015.05px;width:400px;text-align:right;font-size:14px;line-height:14px;font-weight:normal;color:#1c1c24"><span style="transform:scaleX(0.785);transform-origin:right;">0.6</span></div>
<div class="t c" style="left:268.20px;top:1015.05px;width:400px;text-align:right;font-size:14px;line-height:14px;font-weight:normal;color:#1c1c24"><span style="transform:scaleX(0.785);transform-origin:right;">0.13</span></div>
<div class="t c" style="left:406.40px;top:1015.05px;width:400px;text-align:right;font-size:14px;line-height:14px;font-weight:normal;color:#1c1c24"><span style="transform:scaleX(0.785);transform-origin:right;">0.11</span></div>
<div class="t w" style="left:544.00px;top:1015.05px;width:400px;text-align:right;font-size:14px;line-height:14px;font-weight:normal;color:#000000"><span style="transform:scaleX(0.785);transform-origin:right;">15</span></div>
<div class="t hb" style="left:0.50px;top:1036.97px;width:400px;text-align:left;font-size:12.5px;line-height:12.5px;font-weight:bold;color:#000"><span style="transform:scaleX(0.925);transform-origin:left;">Portugal</span></div>
<div class="t w" style="left:-141.70px;top:1035.70px;width:400px;text-align:right;font-size:14px;line-height:14px;font-weight:normal;color:#000000"><span style="transform:scaleX(0.785);transform-origin:right;">94.6</span></div>
<div class="t c" style="left:-4.70px;top:1035.70px;width:400px;text-align:right;font-size:14px;line-height:14px;font-weight:normal;color:#1c1c24"><span style="transform:scaleX(0.785);transform-origin:right;">17.2</span></div>
<div class="t c" style="left:127.10px;top:1035.70px;width:400px;text-align:right;font-size:14px;line-height:14px;font-weight:normal;color:#1c1c24"><span style="transform:scaleX(0.785);transform-origin:right;">3.9</span></div>
<div class="t c" style="left:269.40px;top:1035.70px;width:400px;text-align:right;font-size:14px;line-height:14px;font-weight:normal;color:#1c1c24"><span style="transform:scaleX(0.785);transform-origin:right;">0.15</span></div>
<div class="t w" style="left:406.40px;top:1035.70px;width:400px;text-align:right;font-size:14px;line-height:14px;font-weight:normal;color:#000000"><span style="transform:scaleX(0.785);transform-origin:right;">0.18</span></div>
<div class="t w" style="left:544.00px;top:1035.70px;width:400px;text-align:right;font-size:14px;line-height:14px;font-weight:normal;color:#000000"><span style="transform:scaleX(0.785);transform-origin:right;">15</span></div>
<div class="t hb" style="left:0.50px;top:1057.62px;width:400px;text-align:left;font-size:12.5px;line-height:12.5px;font-weight:bold;color:#000"><span style="transform:scaleX(0.925);transform-origin:left;">El Salvador</span></div>
<div class="t w" style="left:-141.70px;top:1056.35px;width:400px;text-align:right;font-size:14px;line-height:14px;font-weight:normal;color:#000000"><span style="transform:scaleX(0.785);transform-origin:right;">94.3</span></div>
<div class="t c" style="left:-4.70px;top:1056.35px;width:400px;text-align:right;font-size:14px;line-height:14px;font-weight:normal;color:#1c1c24"><span style="transform:scaleX(0.785);transform-origin:right;">19.8</span></div>
<div class="t c" style="left:125.80px;top:1056.35px;width:400px;text-align:right;font-size:14px;line-height:14px;font-weight:normal;color:#1c1c24"><span style="transform:scaleX(0.785);transform-origin:right;">18.6</span></div>
<div class="t c" style="left:269.40px;top:1056.35px;width:400px;text-align:right;font-size:14px;line-height:14px;font-weight:normal;color:#1c1c24"><span style="transform:scaleX(0.785);transform-origin:right;">0.24</span></div>
<div class="t c" style="left:406.40px;top:1056.35px;width:400px;text-align:right;font-size:14px;line-height:14px;font-weight:normal;color:#1c1c24"><span style="transform:scaleX(0.785);transform-origin:right;">0.31</span></div>
<div class="t w" style="left:544.00px;top:1056.35px;width:400px;text-align:right;font-size:14px;line-height:14px;font-weight:normal;color:#000000"><span style="transform:scaleX(0.785);transform-origin:right;">16</span></div>
<div class="t hb" style="left:0.50px;top:1078.27px;width:400px;text-align:left;font-size:12.5px;line-height:12.5px;font-weight:bold;color:#000"><span style="transform:scaleX(0.925);transform-origin:left;">Bulgaria</span></div>
<div class="t w" style="left:-141.70px;top:1077.00px;width:400px;text-align:right;font-size:14px;line-height:14px;font-weight:normal;color:#000000"><span style="transform:scaleX(0.785);transform-origin:right;">94.2</span></div>
<div class="t c" style="left:-4.70px;top:1077.00px;width:400px;text-align:right;font-size:14px;line-height:14px;font-weight:normal;color:#1c1c24"><span style="transform:scaleX(0.785);transform-origin:right;">5.0</span></div>
<div class="t w" style="left:127.10px;top:1077.00px;width:400px;text-align:right;font-size:14px;line-height:14px;font-weight:normal;color:#000000"><span style="transform:scaleX(0.785);transform-origin:right;">7.4</span></div>
<div class="t c" style="left:269.40px;top:1077.00px;width:400px;text-align:right;font-size:14px;line-height:14px;font-weight:normal;color:#1c1c24"><span style="transform:scaleX(0.785);transform-origin:right;">0.29</span></div>
<div class="t c" style="left:406.40px;top:1077.00px;width:400px;text-align:right;font-size:14px;line-height:14px;font-weight:normal;color:#1c1c24"><span style="transform:scaleX(0.785);transform-origin:right;">0.23</span></div>
<div class="t w" style="left:545.00px;top:1077.00px;width:400px;text-align:right;font-size:14px;line-height:14px;font-weight:normal;color:#000000"><span style="transform:scaleX(0.785);transform-origin:right;">14</span></div>
<div class="t hb" style="left:0.50px;top:1098.92px;width:400px;text-align:left;font-size:12.5px;line-height:12.5px;font-weight:bold;color:#000"><span style="transform:scaleX(0.925);transform-origin:left;">Slovak Republic</span></div>
<div class="t w" style="left:-141.70px;top:1097.65px;width:400px;text-align:right;font-size:14px;line-height:14px;font-weight:normal;color:#000000"><span style="transform:scaleX(0.785);transform-origin:right;">94.2</span></div>
<div class="t c" style="left:-4.70px;top:1097.65px;width:400px;text-align:right;font-size:14px;line-height:14px;font-weight:normal;color:#1c1c24"><span style="transform:scaleX(0.785);transform-origin:right;">7.6</span></div>
<div class="t c" style="left:125.80px;top:1097.65px;width:400px;text-align:right;font-size:14px;line-height:14px;font-weight:normal;color:#1c1c24"><span style="transform:scaleX(0.785);transform-origin:right;">10.0</span></div>
<div class="t c" style="left:269.40px;top:1097.65px;width:400px;text-align:right;font-size:14px;line-height:14px;font-weight:normal;color:#1c1c24"><span style="transform:scaleX(0.785);transform-origin:right;">0.28</span></div>
<div class="t c" style="left:406.40px;top:1097.65px;width:400px;text-align:right;font-size:14px;line-height:14px;font-weight:normal;color:#1c1c24"><span style="transform:scaleX(0.785);transform-origin:right;">0.28</span></div>
<div class="t w" style="left:545.00px;top:1097.65px;width:400px;text-align:right;font-size:14px;line-height:14px;font-weight:normal;color:#000000"><span style="transform:scaleX(0.785);transform-origin:right;">11</span></div>
</body></html>
